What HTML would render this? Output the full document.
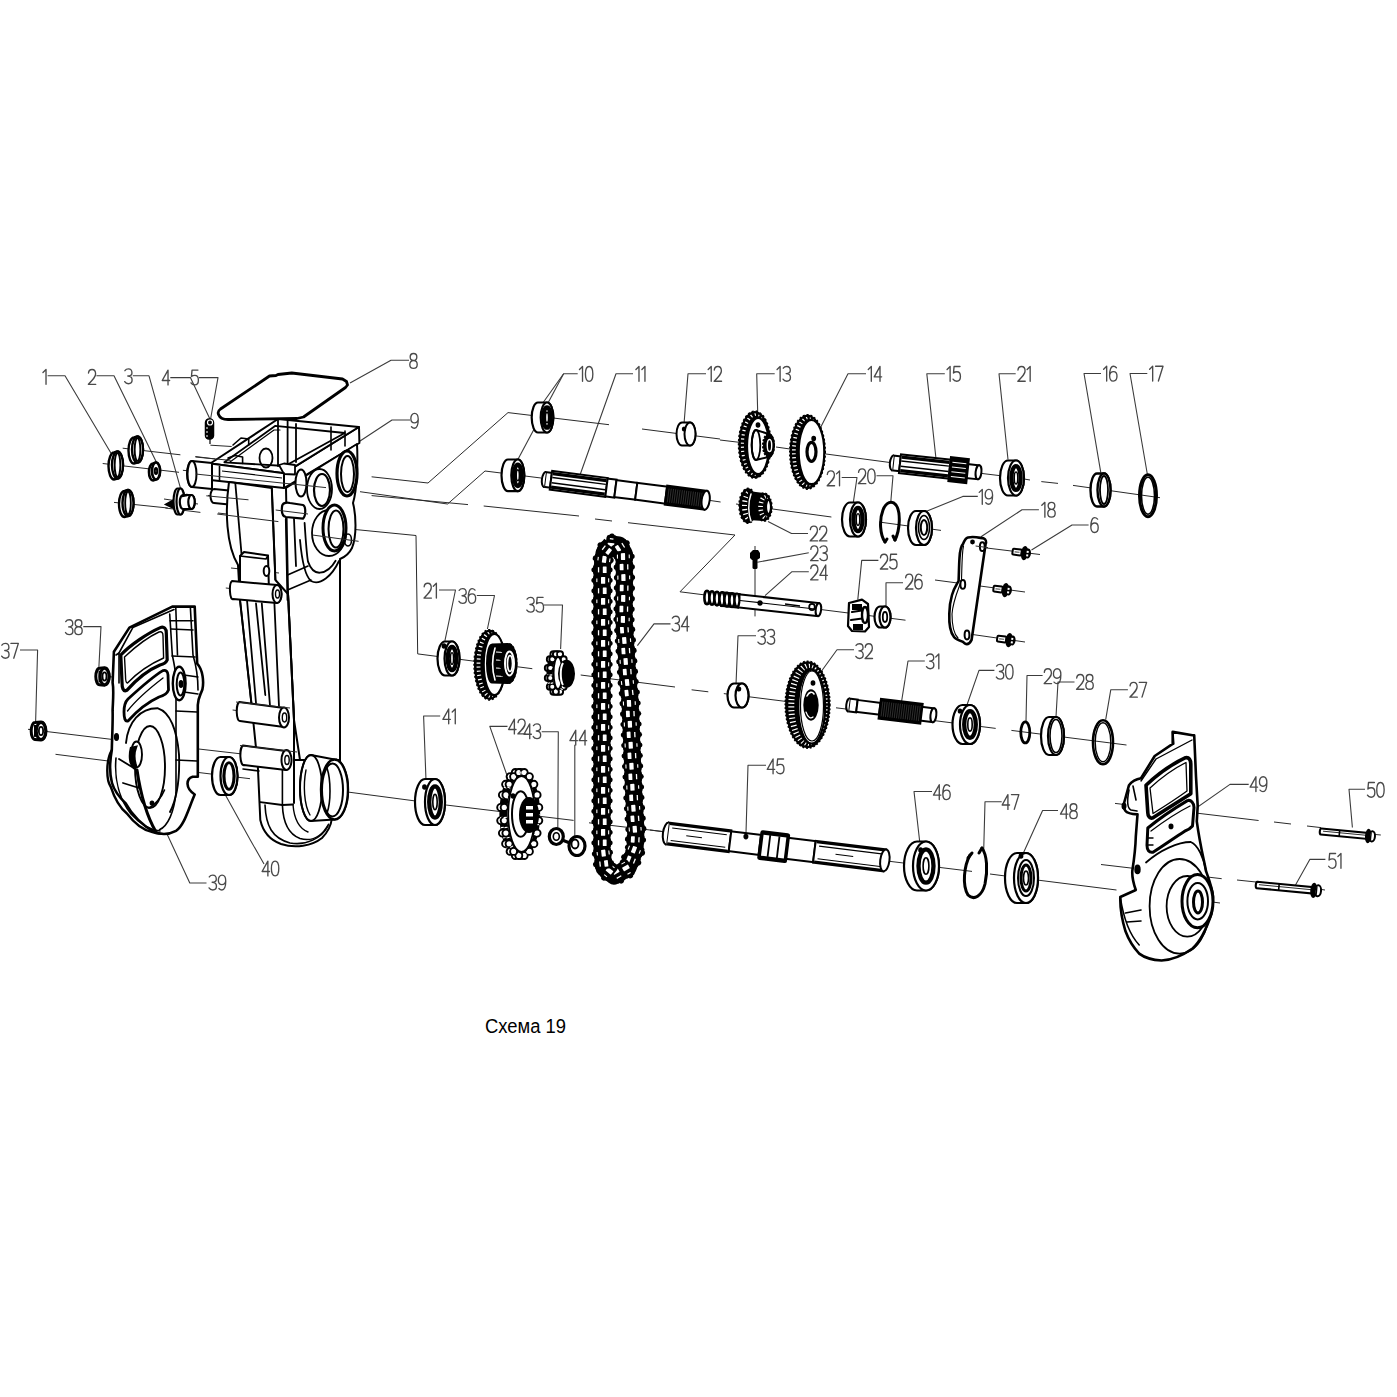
<!DOCTYPE html>
<html><head><meta charset="utf-8"><style>
html,body{margin:0;padding:0;background:#fff;}
svg{display:block;}
.lb{font-family:"Liberation Sans",sans-serif;}
</style></head><body>
<svg width="1397" height="1397" viewBox="0 0 1397 1397">
<rect width="1397" height="1397" fill="#fff"/>
<path d="M0.0,0.2 L0.75,0 L0.75,1" transform="translate(42.97 369.50) scale(4.070 14.800)" fill="none" stroke="#4a4a4a" stroke-width="1.35" vector-effect="non-scaling-stroke" stroke-linejoin="round" stroke-linecap="round"/>
<path d="M0.02,0.24 C0.05,0.08 0.25,0 0.5,0 C0.8,0 0.98,0.13 0.98,0.3 C0.98,0.5 0.7,0.64 0,1 L1,1" transform="translate(88.35 369.50) scale(7.400 14.800)" fill="none" stroke="#4a4a4a" stroke-width="1.35" vector-effect="non-scaling-stroke" stroke-linejoin="round" stroke-linecap="round"/>
<path d="M0.03,0.12 C0.15,0.03 0.32,0 0.5,0 C0.8,0 0.98,0.12 0.98,0.27 C0.98,0.41 0.8,0.48 0.42,0.48 C0.85,0.48 1,0.6 1,0.75 C1,0.9 0.8,1 0.5,1 C0.3,1 0.12,0.96 0,0.86" transform="translate(124.70 368.90) scale(7.400 14.800)" fill="none" stroke="#4a4a4a" stroke-width="1.35" vector-effect="non-scaling-stroke" stroke-linejoin="round" stroke-linecap="round"/>
<path d="M0.78,1 L0.78,0 L0,0.7 L1,0.7" transform="translate(162.25 370.10) scale(7.400 14.800)" fill="none" stroke="#4a4a4a" stroke-width="1.35" vector-effect="non-scaling-stroke" stroke-linejoin="round" stroke-linecap="round"/>
<path d="M0.94,0 L0.14,0 L0.06,0.44 C0.2,0.38 0.36,0.36 0.52,0.36 C0.82,0.36 1,0.5 1,0.68 C1,0.88 0.8,1 0.5,1 C0.28,1 0.1,0.95 0,0.86" transform="translate(191.00 370.10) scale(7.400 14.800)" fill="none" stroke="#4a4a4a" stroke-width="1.35" vector-effect="non-scaling-stroke" stroke-linejoin="round" stroke-linecap="round"/>
<path d="M0.5,0.47 C0.17,0.47 0.05,0.36 0.05,0.235 C0.05,0.1 0.24,0 0.5,0 C0.76,0 0.95,0.1 0.95,0.235 C0.95,0.36 0.83,0.47 0.5,0.47 C0.16,0.47 0,0.6 0,0.74 C0,0.9 0.2,1 0.5,1 C0.8,1 1,0.9 1,0.74 C1,0.6 0.84,0.47 0.5,0.47 Z" transform="translate(409.80 353.55) scale(7.400 14.800)" fill="none" stroke="#4a4a4a" stroke-width="1.35" vector-effect="non-scaling-stroke" stroke-linejoin="round" stroke-linecap="round"/>
<path d="M0.08,0.9 C0.2,0.97 0.34,1 0.48,1 C0.84,1 1,0.7 1,0.4 C1,0.14 0.8,0 0.5,0 C0.2,0 0,0.14 0,0.34 C0,0.54 0.2,0.64 0.48,0.64 C0.74,0.64 0.94,0.54 1,0.4" transform="translate(410.85 413.40) scale(7.400 14.800)" fill="none" stroke="#4a4a4a" stroke-width="1.35" vector-effect="non-scaling-stroke" stroke-linejoin="round" stroke-linecap="round"/>
<path d="M0.0,0.2 L0.75,0 L0.75,1" transform="translate(579.47 366.50) scale(4.070 14.800)" fill="none" stroke="#4a4a4a" stroke-width="1.35" vector-effect="non-scaling-stroke" stroke-linejoin="round" stroke-linecap="round"/>
<path d="M0.5,0 C0.86,0 1,0.22 1,0.5 C1,0.78 0.86,1 0.5,1 C0.14,1 0,0.78 0,0.5 C0,0.22 0.14,0 0.5,0 Z" transform="translate(585.44 366.50) scale(7.400 14.800)" fill="none" stroke="#4a4a4a" stroke-width="1.35" vector-effect="non-scaling-stroke" stroke-linejoin="round" stroke-linecap="round"/>
<path d="M0.0,0.2 L0.75,0 L0.75,1" transform="translate(635.93 366.50) scale(4.070 14.800)" fill="none" stroke="#4a4a4a" stroke-width="1.35" vector-effect="non-scaling-stroke" stroke-linejoin="round" stroke-linecap="round"/>
<path d="M0.0,0.2 L0.75,0 L0.75,1" transform="translate(641.90 366.50) scale(4.070 14.800)" fill="none" stroke="#4a4a4a" stroke-width="1.35" vector-effect="non-scaling-stroke" stroke-linejoin="round" stroke-linecap="round"/>
<path d="M0.0,0.2 L0.75,0 L0.75,1" transform="translate(708.17 366.45) scale(4.070 14.800)" fill="none" stroke="#4a4a4a" stroke-width="1.35" vector-effect="non-scaling-stroke" stroke-linejoin="round" stroke-linecap="round"/>
<path d="M0.02,0.24 C0.05,0.08 0.25,0 0.5,0 C0.8,0 0.98,0.13 0.98,0.3 C0.98,0.5 0.7,0.64 0,1 L1,1" transform="translate(714.14 366.45) scale(7.400 14.800)" fill="none" stroke="#4a4a4a" stroke-width="1.35" vector-effect="non-scaling-stroke" stroke-linejoin="round" stroke-linecap="round"/>
<path d="M0.0,0.2 L0.75,0 L0.75,1" transform="translate(777.07 366.45) scale(4.070 14.800)" fill="none" stroke="#4a4a4a" stroke-width="1.35" vector-effect="non-scaling-stroke" stroke-linejoin="round" stroke-linecap="round"/>
<path d="M0.03,0.12 C0.15,0.03 0.32,0 0.5,0 C0.8,0 0.98,0.12 0.98,0.27 C0.98,0.41 0.8,0.48 0.42,0.48 C0.85,0.48 1,0.6 1,0.75 C1,0.9 0.8,1 0.5,1 C0.3,1 0.12,0.96 0,0.86" transform="translate(783.04 366.45) scale(7.400 14.800)" fill="none" stroke="#4a4a4a" stroke-width="1.35" vector-effect="non-scaling-stroke" stroke-linejoin="round" stroke-linecap="round"/>
<path d="M0.0,0.2 L0.75,0 L0.75,1" transform="translate(868.27 366.45) scale(4.070 14.800)" fill="none" stroke="#4a4a4a" stroke-width="1.35" vector-effect="non-scaling-stroke" stroke-linejoin="round" stroke-linecap="round"/>
<path d="M0.78,1 L0.78,0 L0,0.7 L1,0.7" transform="translate(874.24 366.45) scale(7.400 14.800)" fill="none" stroke="#4a4a4a" stroke-width="1.35" vector-effect="non-scaling-stroke" stroke-linejoin="round" stroke-linecap="round"/>
<path d="M0.0,0.2 L0.75,0 L0.75,1" transform="translate(947.07 366.45) scale(4.070 14.800)" fill="none" stroke="#4a4a4a" stroke-width="1.35" vector-effect="non-scaling-stroke" stroke-linejoin="round" stroke-linecap="round"/>
<path d="M0.94,0 L0.14,0 L0.06,0.44 C0.2,0.38 0.36,0.36 0.52,0.36 C0.82,0.36 1,0.5 1,0.68 C1,0.88 0.8,1 0.5,1 C0.28,1 0.1,0.95 0,0.86" transform="translate(953.04 366.45) scale(7.400 14.800)" fill="none" stroke="#4a4a4a" stroke-width="1.35" vector-effect="non-scaling-stroke" stroke-linejoin="round" stroke-linecap="round"/>
<path d="M0.02,0.24 C0.05,0.08 0.25,0 0.5,0 C0.8,0 0.98,0.13 0.98,0.3 C0.98,0.5 0.7,0.64 0,1 L1,1" transform="translate(1017.82 366.45) scale(7.400 14.800)" fill="none" stroke="#4a4a4a" stroke-width="1.35" vector-effect="non-scaling-stroke" stroke-linejoin="round" stroke-linecap="round"/>
<path d="M0.0,0.2 L0.75,0 L0.75,1" transform="translate(1027.12 366.45) scale(4.070 14.800)" fill="none" stroke="#4a4a4a" stroke-width="1.35" vector-effect="non-scaling-stroke" stroke-linejoin="round" stroke-linecap="round"/>
<path d="M0.0,0.2 L0.75,0 L0.75,1" transform="translate(1103.62 366.25) scale(4.070 14.800)" fill="none" stroke="#4a4a4a" stroke-width="1.35" vector-effect="non-scaling-stroke" stroke-linejoin="round" stroke-linecap="round"/>
<path d="M0.92,0.1 C0.8,0.03 0.66,0 0.52,0 C0.16,0 0,0.3 0,0.6 C0,0.86 0.2,1 0.5,1 C0.8,1 1,0.86 1,0.66 C1,0.46 0.8,0.36 0.52,0.36 C0.26,0.36 0.06,0.46 0,0.62" transform="translate(1109.59 366.25) scale(7.400 14.800)" fill="none" stroke="#4a4a4a" stroke-width="1.35" vector-effect="non-scaling-stroke" stroke-linejoin="round" stroke-linecap="round"/>
<path d="M0.0,0.2 L0.75,0 L0.75,1" transform="translate(1149.62 366.25) scale(4.070 14.800)" fill="none" stroke="#4a4a4a" stroke-width="1.35" vector-effect="non-scaling-stroke" stroke-linejoin="round" stroke-linecap="round"/>
<path d="M0,0 L1,0 L0.38,1" transform="translate(1155.59 366.25) scale(7.400 14.800)" fill="none" stroke="#4a4a4a" stroke-width="1.35" vector-effect="non-scaling-stroke" stroke-linejoin="round" stroke-linecap="round"/>
<path d="M0.02,0.24 C0.05,0.08 0.25,0 0.5,0 C0.8,0 0.98,0.13 0.98,0.3 C0.98,0.5 0.7,0.64 0,1 L1,1" transform="translate(858.40 468.85) scale(7.400 14.800)" fill="none" stroke="#4a4a4a" stroke-width="1.35" vector-effect="non-scaling-stroke" stroke-linejoin="round" stroke-linecap="round"/>
<path d="M0.5,0 C0.86,0 1,0.22 1,0.5 C1,0.78 0.86,1 0.5,1 C0.14,1 0,0.78 0,0.5 C0,0.22 0.14,0 0.5,0 Z" transform="translate(867.70 468.85) scale(7.400 14.800)" fill="none" stroke="#4a4a4a" stroke-width="1.35" vector-effect="non-scaling-stroke" stroke-linejoin="round" stroke-linecap="round"/>
<path d="M0.02,0.24 C0.05,0.08 0.25,0 0.5,0 C0.8,0 0.98,0.13 0.98,0.3 C0.98,0.5 0.7,0.64 0,1 L1,1" transform="translate(827.17 470.90) scale(7.400 14.800)" fill="none" stroke="#4a4a4a" stroke-width="1.35" vector-effect="non-scaling-stroke" stroke-linejoin="round" stroke-linecap="round"/>
<path d="M0.0,0.2 L0.75,0 L0.75,1" transform="translate(836.47 470.90) scale(4.070 14.800)" fill="none" stroke="#4a4a4a" stroke-width="1.35" vector-effect="non-scaling-stroke" stroke-linejoin="round" stroke-linecap="round"/>
<path d="M0.0,0.2 L0.75,0 L0.75,1" transform="translate(979.22 489.40) scale(4.070 14.800)" fill="none" stroke="#4a4a4a" stroke-width="1.35" vector-effect="non-scaling-stroke" stroke-linejoin="round" stroke-linecap="round"/>
<path d="M0.08,0.9 C0.2,0.97 0.34,1 0.48,1 C0.84,1 1,0.7 1,0.4 C1,0.14 0.8,0 0.5,0 C0.2,0 0,0.14 0,0.34 C0,0.54 0.2,0.64 0.48,0.64 C0.74,0.64 0.94,0.54 1,0.4" transform="translate(985.19 489.40) scale(7.400 14.800)" fill="none" stroke="#4a4a4a" stroke-width="1.35" vector-effect="non-scaling-stroke" stroke-linejoin="round" stroke-linecap="round"/>
<path d="M0.0,0.2 L0.75,0 L0.75,1" transform="translate(1041.82 502.35) scale(4.070 14.800)" fill="none" stroke="#4a4a4a" stroke-width="1.35" vector-effect="non-scaling-stroke" stroke-linejoin="round" stroke-linecap="round"/>
<path d="M0.5,0.47 C0.17,0.47 0.05,0.36 0.05,0.235 C0.05,0.1 0.24,0 0.5,0 C0.76,0 0.95,0.1 0.95,0.235 C0.95,0.36 0.83,0.47 0.5,0.47 C0.16,0.47 0,0.6 0,0.74 C0,0.9 0.2,1 0.5,1 C0.8,1 1,0.9 1,0.74 C1,0.6 0.84,0.47 0.5,0.47 Z" transform="translate(1047.79 502.35) scale(7.400 14.800)" fill="none" stroke="#4a4a4a" stroke-width="1.35" vector-effect="non-scaling-stroke" stroke-linejoin="round" stroke-linecap="round"/>
<path d="M0.92,0.1 C0.8,0.03 0.66,0 0.52,0 C0.16,0 0,0.3 0,0.6 C0,0.86 0.2,1 0.5,1 C0.8,1 1,0.86 1,0.66 C1,0.46 0.8,0.36 0.52,0.36 C0.26,0.36 0.06,0.46 0,0.62" transform="translate(1090.80 517.65) scale(7.400 14.800)" fill="none" stroke="#4a4a4a" stroke-width="1.35" vector-effect="non-scaling-stroke" stroke-linejoin="round" stroke-linecap="round"/>
<path d="M0.02,0.24 C0.05,0.08 0.25,0 0.5,0 C0.8,0 0.98,0.13 0.98,0.3 C0.98,0.5 0.7,0.64 0,1 L1,1" transform="translate(810.20 526.10) scale(7.400 14.800)" fill="none" stroke="#4a4a4a" stroke-width="1.35" vector-effect="non-scaling-stroke" stroke-linejoin="round" stroke-linecap="round"/>
<path d="M0.02,0.24 C0.05,0.08 0.25,0 0.5,0 C0.8,0 0.98,0.13 0.98,0.3 C0.98,0.5 0.7,0.64 0,1 L1,1" transform="translate(819.50 526.10) scale(7.400 14.800)" fill="none" stroke="#4a4a4a" stroke-width="1.35" vector-effect="non-scaling-stroke" stroke-linejoin="round" stroke-linecap="round"/>
<path d="M0.02,0.24 C0.05,0.08 0.25,0 0.5,0 C0.8,0 0.98,0.13 0.98,0.3 C0.98,0.5 0.7,0.64 0,1 L1,1" transform="translate(810.65 545.85) scale(7.400 14.800)" fill="none" stroke="#4a4a4a" stroke-width="1.35" vector-effect="non-scaling-stroke" stroke-linejoin="round" stroke-linecap="round"/>
<path d="M0.03,0.12 C0.15,0.03 0.32,0 0.5,0 C0.8,0 0.98,0.12 0.98,0.27 C0.98,0.41 0.8,0.48 0.42,0.48 C0.85,0.48 1,0.6 1,0.75 C1,0.9 0.8,1 0.5,1 C0.3,1 0.12,0.96 0,0.86" transform="translate(819.95 545.85) scale(7.400 14.800)" fill="none" stroke="#4a4a4a" stroke-width="1.35" vector-effect="non-scaling-stroke" stroke-linejoin="round" stroke-linecap="round"/>
<path d="M0.02,0.24 C0.05,0.08 0.25,0 0.5,0 C0.8,0 0.98,0.13 0.98,0.3 C0.98,0.5 0.7,0.64 0,1 L1,1" transform="translate(810.65 565.00) scale(7.400 14.800)" fill="none" stroke="#4a4a4a" stroke-width="1.35" vector-effect="non-scaling-stroke" stroke-linejoin="round" stroke-linecap="round"/>
<path d="M0.78,1 L0.78,0 L0,0.7 L1,0.7" transform="translate(819.95 565.00) scale(7.400 14.800)" fill="none" stroke="#4a4a4a" stroke-width="1.35" vector-effect="non-scaling-stroke" stroke-linejoin="round" stroke-linecap="round"/>
<path d="M0.02,0.24 C0.05,0.08 0.25,0 0.5,0 C0.8,0 0.98,0.13 0.98,0.3 C0.98,0.5 0.7,0.64 0,1 L1,1" transform="translate(880.35 554.20) scale(7.400 14.800)" fill="none" stroke="#4a4a4a" stroke-width="1.35" vector-effect="non-scaling-stroke" stroke-linejoin="round" stroke-linecap="round"/>
<path d="M0.94,0 L0.14,0 L0.06,0.44 C0.2,0.38 0.36,0.36 0.52,0.36 C0.82,0.36 1,0.5 1,0.68 C1,0.88 0.8,1 0.5,1 C0.28,1 0.1,0.95 0,0.86" transform="translate(889.65 554.20) scale(7.400 14.800)" fill="none" stroke="#4a4a4a" stroke-width="1.35" vector-effect="non-scaling-stroke" stroke-linejoin="round" stroke-linecap="round"/>
<path d="M0.02,0.24 C0.05,0.08 0.25,0 0.5,0 C0.8,0 0.98,0.13 0.98,0.3 C0.98,0.5 0.7,0.64 0,1 L1,1" transform="translate(905.50 574.15) scale(7.400 14.800)" fill="none" stroke="#4a4a4a" stroke-width="1.35" vector-effect="non-scaling-stroke" stroke-linejoin="round" stroke-linecap="round"/>
<path d="M0.92,0.1 C0.8,0.03 0.66,0 0.52,0 C0.16,0 0,0.3 0,0.6 C0,0.86 0.2,1 0.5,1 C0.8,1 1,0.86 1,0.66 C1,0.46 0.8,0.36 0.52,0.36 C0.26,0.36 0.06,0.46 0,0.62" transform="translate(914.80 574.15) scale(7.400 14.800)" fill="none" stroke="#4a4a4a" stroke-width="1.35" vector-effect="non-scaling-stroke" stroke-linejoin="round" stroke-linecap="round"/>
<path d="M0.02,0.24 C0.05,0.08 0.25,0 0.5,0 C0.8,0 0.98,0.13 0.98,0.3 C0.98,0.5 0.7,0.64 0,1 L1,1" transform="translate(424.02 583.25) scale(7.400 14.800)" fill="none" stroke="#4a4a4a" stroke-width="1.35" vector-effect="non-scaling-stroke" stroke-linejoin="round" stroke-linecap="round"/>
<path d="M0.0,0.2 L0.75,0 L0.75,1" transform="translate(433.32 583.25) scale(4.070 14.800)" fill="none" stroke="#4a4a4a" stroke-width="1.35" vector-effect="non-scaling-stroke" stroke-linejoin="round" stroke-linecap="round"/>
<path d="M0.03,0.12 C0.15,0.03 0.32,0 0.5,0 C0.8,0 0.98,0.12 0.98,0.27 C0.98,0.41 0.8,0.48 0.42,0.48 C0.85,0.48 1,0.6 1,0.75 C1,0.9 0.8,1 0.5,1 C0.3,1 0.12,0.96 0,0.86" transform="translate(458.95 588.60) scale(7.400 14.800)" fill="none" stroke="#4a4a4a" stroke-width="1.35" vector-effect="non-scaling-stroke" stroke-linejoin="round" stroke-linecap="round"/>
<path d="M0.92,0.1 C0.8,0.03 0.66,0 0.52,0 C0.16,0 0,0.3 0,0.6 C0,0.86 0.2,1 0.5,1 C0.8,1 1,0.86 1,0.66 C1,0.46 0.8,0.36 0.52,0.36 C0.26,0.36 0.06,0.46 0,0.62" transform="translate(468.25 588.60) scale(7.400 14.800)" fill="none" stroke="#4a4a4a" stroke-width="1.35" vector-effect="non-scaling-stroke" stroke-linejoin="round" stroke-linecap="round"/>
<path d="M0.03,0.12 C0.15,0.03 0.32,0 0.5,0 C0.8,0 0.98,0.12 0.98,0.27 C0.98,0.41 0.8,0.48 0.42,0.48 C0.85,0.48 1,0.6 1,0.75 C1,0.9 0.8,1 0.5,1 C0.3,1 0.12,0.96 0,0.86" transform="translate(526.85 597.35) scale(7.400 14.800)" fill="none" stroke="#4a4a4a" stroke-width="1.35" vector-effect="non-scaling-stroke" stroke-linejoin="round" stroke-linecap="round"/>
<path d="M0.94,0 L0.14,0 L0.06,0.44 C0.2,0.38 0.36,0.36 0.52,0.36 C0.82,0.36 1,0.5 1,0.68 C1,0.88 0.8,1 0.5,1 C0.28,1 0.1,0.95 0,0.86" transform="translate(536.15 597.35) scale(7.400 14.800)" fill="none" stroke="#4a4a4a" stroke-width="1.35" vector-effect="non-scaling-stroke" stroke-linejoin="round" stroke-linecap="round"/>
<path d="M0.03,0.12 C0.15,0.03 0.32,0 0.5,0 C0.8,0 0.98,0.12 0.98,0.27 C0.98,0.41 0.8,0.48 0.42,0.48 C0.85,0.48 1,0.6 1,0.75 C1,0.9 0.8,1 0.5,1 C0.3,1 0.12,0.96 0,0.86" transform="translate(672.15 616.30) scale(7.400 14.800)" fill="none" stroke="#4a4a4a" stroke-width="1.35" vector-effect="non-scaling-stroke" stroke-linejoin="round" stroke-linecap="round"/>
<path d="M0.78,1 L0.78,0 L0,0.7 L1,0.7" transform="translate(681.45 616.30) scale(7.400 14.800)" fill="none" stroke="#4a4a4a" stroke-width="1.35" vector-effect="non-scaling-stroke" stroke-linejoin="round" stroke-linecap="round"/>
<path d="M0.03,0.12 C0.15,0.03 0.32,0 0.5,0 C0.8,0 0.98,0.12 0.98,0.27 C0.98,0.41 0.8,0.48 0.42,0.48 C0.85,0.48 1,0.6 1,0.75 C1,0.9 0.8,1 0.5,1 C0.3,1 0.12,0.96 0,0.86" transform="translate(757.95 629.45) scale(7.400 14.800)" fill="none" stroke="#4a4a4a" stroke-width="1.35" vector-effect="non-scaling-stroke" stroke-linejoin="round" stroke-linecap="round"/>
<path d="M0.03,0.12 C0.15,0.03 0.32,0 0.5,0 C0.8,0 0.98,0.12 0.98,0.27 C0.98,0.41 0.8,0.48 0.42,0.48 C0.85,0.48 1,0.6 1,0.75 C1,0.9 0.8,1 0.5,1 C0.3,1 0.12,0.96 0,0.86" transform="translate(767.25 629.45) scale(7.400 14.800)" fill="none" stroke="#4a4a4a" stroke-width="1.35" vector-effect="non-scaling-stroke" stroke-linejoin="round" stroke-linecap="round"/>
<path d="M0.03,0.12 C0.15,0.03 0.32,0 0.5,0 C0.8,0 0.98,0.12 0.98,0.27 C0.98,0.41 0.8,0.48 0.42,0.48 C0.85,0.48 1,0.6 1,0.75 C1,0.9 0.8,1 0.5,1 C0.3,1 0.12,0.96 0,0.86" transform="translate(855.80 643.70) scale(7.400 14.800)" fill="none" stroke="#4a4a4a" stroke-width="1.35" vector-effect="non-scaling-stroke" stroke-linejoin="round" stroke-linecap="round"/>
<path d="M0.02,0.24 C0.05,0.08 0.25,0 0.5,0 C0.8,0 0.98,0.13 0.98,0.3 C0.98,0.5 0.7,0.64 0,1 L1,1" transform="translate(865.10 643.70) scale(7.400 14.800)" fill="none" stroke="#4a4a4a" stroke-width="1.35" vector-effect="non-scaling-stroke" stroke-linejoin="round" stroke-linecap="round"/>
<path d="M0.03,0.12 C0.15,0.03 0.32,0 0.5,0 C0.8,0 0.98,0.12 0.98,0.27 C0.98,0.41 0.8,0.48 0.42,0.48 C0.85,0.48 1,0.6 1,0.75 C1,0.9 0.8,1 0.5,1 C0.3,1 0.12,0.96 0,0.86" transform="translate(926.47 653.95) scale(7.400 14.800)" fill="none" stroke="#4a4a4a" stroke-width="1.35" vector-effect="non-scaling-stroke" stroke-linejoin="round" stroke-linecap="round"/>
<path d="M0.0,0.2 L0.75,0 L0.75,1" transform="translate(935.76 653.95) scale(4.070 14.800)" fill="none" stroke="#4a4a4a" stroke-width="1.35" vector-effect="non-scaling-stroke" stroke-linejoin="round" stroke-linecap="round"/>
<path d="M0.03,0.12 C0.15,0.03 0.32,0 0.5,0 C0.8,0 0.98,0.12 0.98,0.27 C0.98,0.41 0.8,0.48 0.42,0.48 C0.85,0.48 1,0.6 1,0.75 C1,0.9 0.8,1 0.5,1 C0.3,1 0.12,0.96 0,0.86" transform="translate(996.35 664.35) scale(7.400 14.800)" fill="none" stroke="#4a4a4a" stroke-width="1.35" vector-effect="non-scaling-stroke" stroke-linejoin="round" stroke-linecap="round"/>
<path d="M0.5,0 C0.86,0 1,0.22 1,0.5 C1,0.78 0.86,1 0.5,1 C0.14,1 0,0.78 0,0.5 C0,0.22 0.14,0 0.5,0 Z" transform="translate(1005.65 664.35) scale(7.400 14.800)" fill="none" stroke="#4a4a4a" stroke-width="1.35" vector-effect="non-scaling-stroke" stroke-linejoin="round" stroke-linecap="round"/>
<path d="M0.02,0.24 C0.05,0.08 0.25,0 0.5,0 C0.8,0 0.98,0.13 0.98,0.3 C0.98,0.5 0.7,0.64 0,1 L1,1" transform="translate(1044.15 668.80) scale(7.400 14.800)" fill="none" stroke="#4a4a4a" stroke-width="1.35" vector-effect="non-scaling-stroke" stroke-linejoin="round" stroke-linecap="round"/>
<path d="M0.08,0.9 C0.2,0.97 0.34,1 0.48,1 C0.84,1 1,0.7 1,0.4 C1,0.14 0.8,0 0.5,0 C0.2,0 0,0.14 0,0.34 C0,0.54 0.2,0.64 0.48,0.64 C0.74,0.64 0.94,0.54 1,0.4" transform="translate(1053.45 668.80) scale(7.400 14.800)" fill="none" stroke="#4a4a4a" stroke-width="1.35" vector-effect="non-scaling-stroke" stroke-linejoin="round" stroke-linecap="round"/>
<path d="M0.02,0.24 C0.05,0.08 0.25,0 0.5,0 C0.8,0 0.98,0.13 0.98,0.3 C0.98,0.5 0.7,0.64 0,1 L1,1" transform="translate(1076.55 674.45) scale(7.400 14.800)" fill="none" stroke="#4a4a4a" stroke-width="1.35" vector-effect="non-scaling-stroke" stroke-linejoin="round" stroke-linecap="round"/>
<path d="M0.5,0.47 C0.17,0.47 0.05,0.36 0.05,0.235 C0.05,0.1 0.24,0 0.5,0 C0.76,0 0.95,0.1 0.95,0.235 C0.95,0.36 0.83,0.47 0.5,0.47 C0.16,0.47 0,0.6 0,0.74 C0,0.9 0.2,1 0.5,1 C0.8,1 1,0.9 1,0.74 C1,0.6 0.84,0.47 0.5,0.47 Z" transform="translate(1085.85 674.45) scale(7.400 14.800)" fill="none" stroke="#4a4a4a" stroke-width="1.35" vector-effect="non-scaling-stroke" stroke-linejoin="round" stroke-linecap="round"/>
<path d="M0.02,0.24 C0.05,0.08 0.25,0 0.5,0 C0.8,0 0.98,0.13 0.98,0.3 C0.98,0.5 0.7,0.64 0,1 L1,1" transform="translate(1129.90 682.35) scale(7.400 14.800)" fill="none" stroke="#4a4a4a" stroke-width="1.35" vector-effect="non-scaling-stroke" stroke-linejoin="round" stroke-linecap="round"/>
<path d="M0,0 L1,0 L0.38,1" transform="translate(1139.20 682.35) scale(7.400 14.800)" fill="none" stroke="#4a4a4a" stroke-width="1.35" vector-effect="non-scaling-stroke" stroke-linejoin="round" stroke-linecap="round"/>
<path d="M0.03,0.12 C0.15,0.03 0.32,0 0.5,0 C0.8,0 0.98,0.12 0.98,0.27 C0.98,0.41 0.8,0.48 0.42,0.48 C0.85,0.48 1,0.6 1,0.75 C1,0.9 0.8,1 0.5,1 C0.3,1 0.12,0.96 0,0.86" transform="translate(65.50 619.80) scale(7.400 14.800)" fill="none" stroke="#4a4a4a" stroke-width="1.35" vector-effect="non-scaling-stroke" stroke-linejoin="round" stroke-linecap="round"/>
<path d="M0.5,0.47 C0.17,0.47 0.05,0.36 0.05,0.235 C0.05,0.1 0.24,0 0.5,0 C0.76,0 0.95,0.1 0.95,0.235 C0.95,0.36 0.83,0.47 0.5,0.47 C0.16,0.47 0,0.6 0,0.74 C0,0.9 0.2,1 0.5,1 C0.8,1 1,0.9 1,0.74 C1,0.6 0.84,0.47 0.5,0.47 Z" transform="translate(74.80 619.80) scale(7.400 14.800)" fill="none" stroke="#4a4a4a" stroke-width="1.35" vector-effect="non-scaling-stroke" stroke-linejoin="round" stroke-linecap="round"/>
<path d="M0.03,0.12 C0.15,0.03 0.32,0 0.5,0 C0.8,0 0.98,0.12 0.98,0.27 C0.98,0.41 0.8,0.48 0.42,0.48 C0.85,0.48 1,0.6 1,0.75 C1,0.9 0.8,1 0.5,1 C0.3,1 0.12,0.96 0,0.86" transform="translate(1.65 643.40) scale(7.400 14.800)" fill="none" stroke="#4a4a4a" stroke-width="1.35" vector-effect="non-scaling-stroke" stroke-linejoin="round" stroke-linecap="round"/>
<path d="M0,0 L1,0 L0.38,1" transform="translate(10.95 643.40) scale(7.400 14.800)" fill="none" stroke="#4a4a4a" stroke-width="1.35" vector-effect="non-scaling-stroke" stroke-linejoin="round" stroke-linecap="round"/>
<path d="M0.78,1 L0.78,0 L0,0.7 L1,0.7" transform="translate(442.92 709.05) scale(7.400 14.800)" fill="none" stroke="#4a4a4a" stroke-width="1.35" vector-effect="non-scaling-stroke" stroke-linejoin="round" stroke-linecap="round"/>
<path d="M0.0,0.2 L0.75,0 L0.75,1" transform="translate(452.22 709.05) scale(4.070 14.800)" fill="none" stroke="#4a4a4a" stroke-width="1.35" vector-effect="non-scaling-stroke" stroke-linejoin="round" stroke-linecap="round"/>
<path d="M0.78,1 L0.78,0 L0,0.7 L1,0.7" transform="translate(508.60 719.10) scale(7.400 14.800)" fill="none" stroke="#4a4a4a" stroke-width="1.35" vector-effect="non-scaling-stroke" stroke-linejoin="round" stroke-linecap="round"/>
<path d="M0.02,0.24 C0.05,0.08 0.25,0 0.5,0 C0.8,0 0.98,0.13 0.98,0.3 C0.98,0.5 0.7,0.64 0,1 L1,1" transform="translate(517.90 719.10) scale(7.400 14.800)" fill="none" stroke="#4a4a4a" stroke-width="1.35" vector-effect="non-scaling-stroke" stroke-linejoin="round" stroke-linecap="round"/>
<path d="M0.78,1 L0.78,0 L0,0.7 L1,0.7" transform="translate(523.95 723.85) scale(7.400 14.800)" fill="none" stroke="#4a4a4a" stroke-width="1.35" vector-effect="non-scaling-stroke" stroke-linejoin="round" stroke-linecap="round"/>
<path d="M0.03,0.12 C0.15,0.03 0.32,0 0.5,0 C0.8,0 0.98,0.12 0.98,0.27 C0.98,0.41 0.8,0.48 0.42,0.48 C0.85,0.48 1,0.6 1,0.75 C1,0.9 0.8,1 0.5,1 C0.3,1 0.12,0.96 0,0.86" transform="translate(533.25 723.85) scale(7.400 14.800)" fill="none" stroke="#4a4a4a" stroke-width="1.35" vector-effect="non-scaling-stroke" stroke-linejoin="round" stroke-linecap="round"/>
<path d="M0.78,1 L0.78,0 L0,0.7 L1,0.7" transform="translate(569.95 730.30) scale(7.400 14.800)" fill="none" stroke="#4a4a4a" stroke-width="1.35" vector-effect="non-scaling-stroke" stroke-linejoin="round" stroke-linecap="round"/>
<path d="M0.78,1 L0.78,0 L0,0.7 L1,0.7" transform="translate(579.25 730.30) scale(7.400 14.800)" fill="none" stroke="#4a4a4a" stroke-width="1.35" vector-effect="non-scaling-stroke" stroke-linejoin="round" stroke-linecap="round"/>
<path d="M0.78,1 L0.78,0 L0,0.7 L1,0.7" transform="translate(767.30 759.00) scale(7.400 14.800)" fill="none" stroke="#4a4a4a" stroke-width="1.35" vector-effect="non-scaling-stroke" stroke-linejoin="round" stroke-linecap="round"/>
<path d="M0.94,0 L0.14,0 L0.06,0.44 C0.2,0.38 0.36,0.36 0.52,0.36 C0.82,0.36 1,0.5 1,0.68 C1,0.88 0.8,1 0.5,1 C0.28,1 0.1,0.95 0,0.86" transform="translate(776.60 759.00) scale(7.400 14.800)" fill="none" stroke="#4a4a4a" stroke-width="1.35" vector-effect="non-scaling-stroke" stroke-linejoin="round" stroke-linecap="round"/>
<path d="M0.78,1 L0.78,0 L0,0.7 L1,0.7" transform="translate(933.50 784.75) scale(7.400 14.800)" fill="none" stroke="#4a4a4a" stroke-width="1.35" vector-effect="non-scaling-stroke" stroke-linejoin="round" stroke-linecap="round"/>
<path d="M0.92,0.1 C0.8,0.03 0.66,0 0.52,0 C0.16,0 0,0.3 0,0.6 C0,0.86 0.2,1 0.5,1 C0.8,1 1,0.86 1,0.66 C1,0.46 0.8,0.36 0.52,0.36 C0.26,0.36 0.06,0.46 0,0.62" transform="translate(942.80 784.75) scale(7.400 14.800)" fill="none" stroke="#4a4a4a" stroke-width="1.35" vector-effect="non-scaling-stroke" stroke-linejoin="round" stroke-linecap="round"/>
<path d="M0.78,1 L0.78,0 L0,0.7 L1,0.7" transform="translate(1002.15 794.60) scale(7.400 14.800)" fill="none" stroke="#4a4a4a" stroke-width="1.35" vector-effect="non-scaling-stroke" stroke-linejoin="round" stroke-linecap="round"/>
<path d="M0,0 L1,0 L0.38,1" transform="translate(1011.45 794.60) scale(7.400 14.800)" fill="none" stroke="#4a4a4a" stroke-width="1.35" vector-effect="non-scaling-stroke" stroke-linejoin="round" stroke-linecap="round"/>
<path d="M0.78,1 L0.78,0 L0,0.7 L1,0.7" transform="translate(1060.50 803.80) scale(7.400 14.800)" fill="none" stroke="#4a4a4a" stroke-width="1.35" vector-effect="non-scaling-stroke" stroke-linejoin="round" stroke-linecap="round"/>
<path d="M0.5,0.47 C0.17,0.47 0.05,0.36 0.05,0.235 C0.05,0.1 0.24,0 0.5,0 C0.76,0 0.95,0.1 0.95,0.235 C0.95,0.36 0.83,0.47 0.5,0.47 C0.16,0.47 0,0.6 0,0.74 C0,0.9 0.2,1 0.5,1 C0.8,1 1,0.9 1,0.74 C1,0.6 0.84,0.47 0.5,0.47 Z" transform="translate(1069.80 803.80) scale(7.400 14.800)" fill="none" stroke="#4a4a4a" stroke-width="1.35" vector-effect="non-scaling-stroke" stroke-linejoin="round" stroke-linecap="round"/>
<path d="M0.78,1 L0.78,0 L0,0.7 L1,0.7" transform="translate(1250.15 776.80) scale(7.400 14.800)" fill="none" stroke="#4a4a4a" stroke-width="1.35" vector-effect="non-scaling-stroke" stroke-linejoin="round" stroke-linecap="round"/>
<path d="M0.08,0.9 C0.2,0.97 0.34,1 0.48,1 C0.84,1 1,0.7 1,0.4 C1,0.14 0.8,0 0.5,0 C0.2,0 0,0.14 0,0.34 C0,0.54 0.2,0.64 0.48,0.64 C0.74,0.64 0.94,0.54 1,0.4" transform="translate(1259.45 776.80) scale(7.400 14.800)" fill="none" stroke="#4a4a4a" stroke-width="1.35" vector-effect="non-scaling-stroke" stroke-linejoin="round" stroke-linecap="round"/>
<path d="M0.94,0 L0.14,0 L0.06,0.44 C0.2,0.38 0.36,0.36 0.52,0.36 C0.82,0.36 1,0.5 1,0.68 C1,0.88 0.8,1 0.5,1 C0.28,1 0.1,0.95 0,0.86" transform="translate(1367.45 782.45) scale(7.400 14.800)" fill="none" stroke="#4a4a4a" stroke-width="1.35" vector-effect="non-scaling-stroke" stroke-linejoin="round" stroke-linecap="round"/>
<path d="M0.5,0 C0.86,0 1,0.22 1,0.5 C1,0.78 0.86,1 0.5,1 C0.14,1 0,0.78 0,0.5 C0,0.22 0.14,0 0.5,0 Z" transform="translate(1376.75 782.45) scale(7.400 14.800)" fill="none" stroke="#4a4a4a" stroke-width="1.35" vector-effect="non-scaling-stroke" stroke-linejoin="round" stroke-linecap="round"/>
<path d="M0.94,0 L0.14,0 L0.06,0.44 C0.2,0.38 0.36,0.36 0.52,0.36 C0.82,0.36 1,0.5 1,0.68 C1,0.88 0.8,1 0.5,1 C0.28,1 0.1,0.95 0,0.86" transform="translate(1328.62 853.50) scale(7.400 14.800)" fill="none" stroke="#4a4a4a" stroke-width="1.35" vector-effect="non-scaling-stroke" stroke-linejoin="round" stroke-linecap="round"/>
<path d="M0.0,0.2 L0.75,0 L0.75,1" transform="translate(1337.91 853.50) scale(4.070 14.800)" fill="none" stroke="#4a4a4a" stroke-width="1.35" vector-effect="non-scaling-stroke" stroke-linejoin="round" stroke-linecap="round"/>
<path d="M0.03,0.12 C0.15,0.03 0.32,0 0.5,0 C0.8,0 0.98,0.12 0.98,0.27 C0.98,0.41 0.8,0.48 0.42,0.48 C0.85,0.48 1,0.6 1,0.75 C1,0.9 0.8,1 0.5,1 C0.3,1 0.12,0.96 0,0.86" transform="translate(209.05 875.15) scale(7.400 14.800)" fill="none" stroke="#4a4a4a" stroke-width="1.35" vector-effect="non-scaling-stroke" stroke-linejoin="round" stroke-linecap="round"/>
<path d="M0.08,0.9 C0.2,0.97 0.34,1 0.48,1 C0.84,1 1,0.7 1,0.4 C1,0.14 0.8,0 0.5,0 C0.2,0 0,0.14 0,0.34 C0,0.54 0.2,0.64 0.48,0.64 C0.74,0.64 0.94,0.54 1,0.4" transform="translate(218.35 875.15) scale(7.400 14.800)" fill="none" stroke="#4a4a4a" stroke-width="1.35" vector-effect="non-scaling-stroke" stroke-linejoin="round" stroke-linecap="round"/>
<path d="M0.78,1 L0.78,0 L0,0.7 L1,0.7" transform="translate(262.10 861.10) scale(7.400 14.800)" fill="none" stroke="#4a4a4a" stroke-width="1.35" vector-effect="non-scaling-stroke" stroke-linejoin="round" stroke-linecap="round"/>
<path d="M0.5,0 C0.86,0 1,0.22 1,0.5 C1,0.78 0.86,1 0.5,1 C0.14,1 0,0.78 0,0.5 C0,0.22 0.14,0 0.5,0 Z" transform="translate(271.40 861.10) scale(7.400 14.800)" fill="none" stroke="#4a4a4a" stroke-width="1.35" vector-effect="non-scaling-stroke" stroke-linejoin="round" stroke-linecap="round"/>
<text x="485" y="1033.4" font-size="19.5" textLength="81" lengthAdjust="spacingAndGlyphs" fill="#000" class="lb">Схема 19</text>
<polyline points="47.6,375.8 65.0,375.8 111.5,454.0" fill="none" stroke="#3c3c3c" stroke-width="1.1" stroke-linejoin="round"/>
<polyline points="96.4,375.8 114.0,375.8 157.3,464.0" fill="none" stroke="#3c3c3c" stroke-width="1.1" stroke-linejoin="round"/>
<polyline points="132.8,375.8 149.0,375.8 180.4,487.8" fill="none" stroke="#3c3c3c" stroke-width="1.1" stroke-linejoin="round"/>
<polyline points="170.3,377.6 190.4,377.6 210.4,420.0" fill="none" stroke="#3c3c3c" stroke-width="1.1" stroke-linejoin="round"/>
<polyline points="199.0,377.6 218.0,377.6 210.4,420.0" fill="none" stroke="#3c3c3c" stroke-width="1.1" stroke-linejoin="round"/>
<polyline points="409.0,360.3 391.0,360.3 350.0,383.0" fill="none" stroke="#3c3c3c" stroke-width="1.1" stroke-linejoin="round"/>
<polyline points="410.0,420.0 392.0,420.0 357.0,443.0" fill="none" stroke="#3c3c3c" stroke-width="1.1" stroke-linejoin="round"/>
<polyline points="577.7,373.7 563.6,373.7 543.0,402.8" fill="none" stroke="#3c3c3c" stroke-width="1.1" stroke-linejoin="round"/>
<polyline points="563.6,373.7 516.0,463.0" fill="none" stroke="#3c3c3c" stroke-width="1.1" stroke-linejoin="round"/>
<polyline points="633.0,373.7 616.0,373.7 580.0,475.0" fill="none" stroke="#3c3c3c" stroke-width="1.1" stroke-linejoin="round"/>
<polyline points="706.0,373.7 688.0,373.7 684.0,424.0" fill="none" stroke="#3c3c3c" stroke-width="1.1" stroke-linejoin="round"/>
<polyline points="774.7,373.7 756.7,373.7 758.0,424.7" fill="none" stroke="#3c3c3c" stroke-width="1.1" stroke-linejoin="round"/>
<polyline points="866.0,373.7 848.0,373.7 814.7,439.0" fill="none" stroke="#3c3c3c" stroke-width="1.1" stroke-linejoin="round"/>
<polyline points="944.8,373.7 926.8,373.7 935.8,457.0" fill="none" stroke="#3c3c3c" stroke-width="1.1" stroke-linejoin="round"/>
<polyline points="1015.7,373.7 999.0,373.7 1008.0,459.5" fill="none" stroke="#3c3c3c" stroke-width="1.1" stroke-linejoin="round"/>
<polyline points="1101.0,373.5 1084.0,373.5 1100.8,472.7" fill="none" stroke="#3c3c3c" stroke-width="1.1" stroke-linejoin="round"/>
<polyline points="1147.3,373.5 1130.0,373.5 1147.3,474.0" fill="none" stroke="#3c3c3c" stroke-width="1.1" stroke-linejoin="round"/>
<polyline points="841.7,477.5 857.0,477.5 853.0,504.6" fill="none" stroke="#3c3c3c" stroke-width="1.1" stroke-linejoin="round"/>
<polyline points="876.5,475.8 893.0,475.8 890.7,503.0" fill="none" stroke="#3c3c3c" stroke-width="1.1" stroke-linejoin="round"/>
<polyline points="977.8,496.4 962.8,496.4 924.0,512.3" fill="none" stroke="#3c3c3c" stroke-width="1.1" stroke-linejoin="round"/>
<polyline points="1038.9,509.8 1022.0,509.8 981.0,536.8" fill="none" stroke="#3c3c3c" stroke-width="1.1" stroke-linejoin="round"/>
<polyline points="1088.6,525.0 1072.0,525.0 1031.5,550.0" fill="none" stroke="#3c3c3c" stroke-width="1.1" stroke-linejoin="round"/>
<polyline points="808.0,533.5 791.5,533.5 768.0,521.4" fill="none" stroke="#3c3c3c" stroke-width="1.1" stroke-linejoin="round"/>
<polyline points="808.8,552.7 757.3,562.2" fill="none" stroke="#3c3c3c" stroke-width="1.1" stroke-linejoin="round"/>
<polyline points="808.8,571.7 792.0,571.7 765.0,595.7" fill="none" stroke="#3c3c3c" stroke-width="1.1" stroke-linejoin="round"/>
<polyline points="878.4,560.4 861.7,560.4 857.8,599.6" fill="none" stroke="#3c3c3c" stroke-width="1.1" stroke-linejoin="round"/>
<polyline points="903.0,582.8 886.0,582.8 886.0,607.3" fill="none" stroke="#3c3c3c" stroke-width="1.1" stroke-linejoin="round"/>
<polyline points="439.0,590.0 455.5,590.0 444.9,640.9" fill="none" stroke="#3c3c3c" stroke-width="1.1" stroke-linejoin="round"/>
<polyline points="476.8,595.5 494.5,595.5 487.4,629.0" fill="none" stroke="#3c3c3c" stroke-width="1.1" stroke-linejoin="round"/>
<polyline points="544.0,605.0 562.5,605.0 560.6,649.0" fill="none" stroke="#3c3c3c" stroke-width="1.1" stroke-linejoin="round"/>
<polyline points="670.5,623.9 654.0,623.9 637.4,645.6" fill="none" stroke="#3c3c3c" stroke-width="1.1" stroke-linejoin="round"/>
<polyline points="756.0,635.7 738.0,635.7 736.0,684.6" fill="none" stroke="#3c3c3c" stroke-width="1.1" stroke-linejoin="round"/>
<polyline points="854.0,649.8 837.0,649.8 812.7,683.3" fill="none" stroke="#3c3c3c" stroke-width="1.1" stroke-linejoin="round"/>
<polyline points="924.8,661.0 908.0,661.0 901.0,705.0" fill="none" stroke="#3c3c3c" stroke-width="1.1" stroke-linejoin="round"/>
<polyline points="994.4,670.4 979.0,670.4 966.0,707.8" fill="none" stroke="#3c3c3c" stroke-width="1.1" stroke-linejoin="round"/>
<polyline points="1042.6,675.5 1027.0,675.5 1026.0,721.0" fill="none" stroke="#3c3c3c" stroke-width="1.1" stroke-linejoin="round"/>
<polyline points="1074.5,682.0 1058.0,682.0 1056.0,716.7" fill="none" stroke="#3c3c3c" stroke-width="1.1" stroke-linejoin="round"/>
<polyline points="1127.9,689.7 1110.8,689.7 1105.7,719.6" fill="none" stroke="#3c3c3c" stroke-width="1.1" stroke-linejoin="round"/>
<polyline points="83.3,626.6 101.0,626.6 98.8,668.8" fill="none" stroke="#3c3c3c" stroke-width="1.1" stroke-linejoin="round"/>
<polyline points="20.0,650.0 37.6,650.0 35.6,722.3" fill="none" stroke="#3c3c3c" stroke-width="1.1" stroke-linejoin="round"/>
<polyline points="440.2,716.0 423.6,716.0 426.0,780.2" fill="none" stroke="#3c3c3c" stroke-width="1.1" stroke-linejoin="round"/>
<polyline points="507.5,726.4 489.8,726.4 508.7,780.2" fill="none" stroke="#3c3c3c" stroke-width="1.1" stroke-linejoin="round"/>
<polyline points="541.7,731.8 558.3,731.8 557.8,828.7" fill="none" stroke="#3c3c3c" stroke-width="1.1" stroke-linejoin="round"/>
<polyline points="574.8,744.8 574.8,837.0" fill="none" stroke="#3c3c3c" stroke-width="1.1" stroke-linejoin="round"/>
<polyline points="766.0,765.3 748.0,765.3 745.9,836.6" fill="none" stroke="#3c3c3c" stroke-width="1.1" stroke-linejoin="round"/>
<polyline points="932.0,791.5 914.0,791.5 920.6,849.5" fill="none" stroke="#3c3c3c" stroke-width="1.1" stroke-linejoin="round"/>
<polyline points="1001.7,801.8 985.0,801.8 983.7,850.8" fill="none" stroke="#3c3c3c" stroke-width="1.1" stroke-linejoin="round"/>
<polyline points="1058.0,810.5 1042.6,810.5 1022.7,854.5" fill="none" stroke="#3c3c3c" stroke-width="1.1" stroke-linejoin="round"/>
<polyline points="1248.7,784.4 1230.0,784.4 1170.5,826.0" fill="none" stroke="#3c3c3c" stroke-width="1.1" stroke-linejoin="round"/>
<polyline points="1365.0,789.2 1349.0,789.2 1352.4,827.5" fill="none" stroke="#3c3c3c" stroke-width="1.1" stroke-linejoin="round"/>
<polyline points="1325.4,859.4 1309.8,859.4 1295.5,885.0" fill="none" stroke="#3c3c3c" stroke-width="1.1" stroke-linejoin="round"/>
<polyline points="206.5,883.0 189.8,883.0 153.2,804.3" fill="none" stroke="#3c3c3c" stroke-width="1.1" stroke-linejoin="round"/>
<polyline points="264.0,864.0 250.3,840.0 225.7,795.4" fill="none" stroke="#3c3c3c" stroke-width="1.1" stroke-linejoin="round"/>
<polyline points="122.7,448.2 180.4,454.8" fill="none" stroke="#2a2a2a" stroke-width="1.0" stroke-linejoin="round"/>
<polyline points="102.7,463.5 179.0,472.3" fill="none" stroke="#2a2a2a" stroke-width="1.0" stroke-linejoin="round"/>
<polyline points="195.4,456.5 215.0,459.0" fill="none" stroke="#2a2a2a" stroke-width="1.0" stroke-linejoin="round"/>
<polyline points="182.9,470.3 210.0,473.0" fill="none" stroke="#2a2a2a" stroke-width="1.0" stroke-linejoin="round"/>
<polyline points="114.0,502.4 167.8,508.0" fill="none" stroke="#2a2a2a" stroke-width="1.0" stroke-linejoin="round"/>
<polyline points="164.0,499.0 198.0,504.0" fill="none" stroke="#2a2a2a" stroke-width="1.0" stroke-linejoin="round"/>
<polyline points="165.3,508.0 200.4,512.4" fill="none" stroke="#2a2a2a" stroke-width="1.0" stroke-linejoin="round"/>
<polyline points="208.0,495.4 248.0,500.4" fill="none" stroke="#2a2a2a" stroke-width="1.0" stroke-linejoin="round"/>
<polyline points="218.0,513.0 250.0,516.7" fill="none" stroke="#2a2a2a" stroke-width="1.0" stroke-linejoin="round"/>
<polyline points="210.4,445.2 231.7,446.5" fill="none" stroke="#2a2a2a" stroke-width="1.0" stroke-linejoin="round"/>
<polyline points="371.6,476.8 428.0,483.0 508.0,412.6 609.0,424.7" fill="none" stroke="#2a2a2a" stroke-width="1.0" stroke-linejoin="round"/>
<polyline points="642.0,429.0 720.0,439.0" fill="none" stroke="#2a2a2a" stroke-width="1.0" stroke-linejoin="round"/>
<polyline points="1041.3,481.6 1058.0,483.4" fill="none" stroke="#2a2a2a" stroke-width="1.0" stroke-linejoin="round"/>
<polyline points="1073.0,485.4 1160.0,497.7" fill="none" stroke="#2a2a2a" stroke-width="1.0" stroke-linejoin="round"/>
<polyline points="360.0,491.7 447.6,504.0 485.0,471.0 541.0,478.0" fill="none" stroke="#2a2a2a" stroke-width="1.0" stroke-linejoin="round"/>
<polyline points="700.0,499.0 720.6,502.0" fill="none" stroke="#2a2a2a" stroke-width="1.0" stroke-linejoin="round"/>
<polyline points="736.0,504.0 831.4,517.0" fill="none" stroke="#2a2a2a" stroke-width="1.0" stroke-linejoin="round"/>
<polyline points="879.0,522.0 941.0,530.4" fill="none" stroke="#2a2a2a" stroke-width="1.0" stroke-linejoin="round"/>
<polyline points="371.6,495.6 468.0,504.6" fill="none" stroke="#2a2a2a" stroke-width="1.0" stroke-linejoin="round"/>
<polyline points="483.7,506.0 579.0,516.0" fill="none" stroke="#2a2a2a" stroke-width="1.0" stroke-linejoin="round"/>
<polyline points="595.0,519.0 612.0,521.0" fill="none" stroke="#2a2a2a" stroke-width="1.0" stroke-linejoin="round"/>
<polyline points="628.0,522.7 735.0,535.0 680.0,591.8 905.5,620.2" fill="none" stroke="#2a2a2a" stroke-width="1.0" stroke-linejoin="round"/>
<polyline points="350.0,529.0 416.0,535.5 417.7,653.9 532.3,668.7" fill="none" stroke="#2a2a2a" stroke-width="1.0" stroke-linejoin="round"/>
<polyline points="580.7,675.0 675.0,687.0" fill="none" stroke="#2a2a2a" stroke-width="1.0" stroke-linejoin="round"/>
<polyline points="691.6,689.8 708.3,691.8" fill="none" stroke="#2a2a2a" stroke-width="1.0" stroke-linejoin="round"/>
<polyline points="723.8,693.6 785.6,701.4" fill="none" stroke="#2a2a2a" stroke-width="1.0" stroke-linejoin="round"/>
<polyline points="836.0,707.8 846.0,709.0" fill="none" stroke="#2a2a2a" stroke-width="1.0" stroke-linejoin="round"/>
<polyline points="935.0,720.7 995.7,728.4" fill="none" stroke="#2a2a2a" stroke-width="1.0" stroke-linejoin="round"/>
<polyline points="1011.4,730.4 1126.5,745.0" fill="none" stroke="#2a2a2a" stroke-width="1.0" stroke-linejoin="round"/>
<polyline points="55.5,754.3 143.0,765.4" fill="none" stroke="#2a2a2a" stroke-width="1.0" stroke-linejoin="round"/>
<polyline points="157.7,767.6 250.0,778.7" fill="none" stroke="#2a2a2a" stroke-width="1.0" stroke-linejoin="round"/>
<polyline points="254.4,780.0 254.4,780.0" fill="none" stroke="#2a2a2a" stroke-width="1.0" stroke-linejoin="round"/>
<polyline points="270.4,781.6 287.0,784.0" fill="none" stroke="#2a2a2a" stroke-width="1.0" stroke-linejoin="round"/>
<polyline points="303.6,786.2 446.0,805.0" fill="none" stroke="#2a2a2a" stroke-width="1.0" stroke-linejoin="round"/>
<polyline points="446.0,805.0 573.6,820.4" fill="none" stroke="#2a2a2a" stroke-width="1.0" stroke-linejoin="round"/>
<polyline points="589.0,822.8 667.0,832.0" fill="none" stroke="#2a2a2a" stroke-width="1.0" stroke-linejoin="round"/>
<polyline points="650.0,830.0 887.0,861.0" fill="none" stroke="#2a2a2a" stroke-width="1.0" stroke-linejoin="round"/>
<polyline points="887.0,861.0 972.0,871.4" fill="none" stroke="#2a2a2a" stroke-width="1.0" stroke-linejoin="round"/>
<polyline points="990.0,874.0 1010.0,876.6" fill="none" stroke="#2a2a2a" stroke-width="1.0" stroke-linejoin="round"/>
<polyline points="1037.0,880.0 1116.5,890.0" fill="none" stroke="#2a2a2a" stroke-width="1.0" stroke-linejoin="round"/>
<polyline points="1164.8,895.8 1220.0,903.0" fill="none" stroke="#2a2a2a" stroke-width="1.0" stroke-linejoin="round"/>
<polyline points="28.0,729.3 171.0,746.5" fill="none" stroke="#2a2a2a" stroke-width="1.0" stroke-linejoin="round"/>
<polyline points="186.5,747.6 297.9,760.4" fill="none" stroke="#2a2a2a" stroke-width="1.0" stroke-linejoin="round"/>
<polyline points="232.6,710.0 295.0,717.5" fill="none" stroke="#2a2a2a" stroke-width="1.0" stroke-linejoin="round"/>
<polyline points="231.0,568.0 279.0,573.0" fill="none" stroke="#2a2a2a" stroke-width="1.0" stroke-linejoin="round"/>
<polyline points="225.8,588.0 287.0,594.4" fill="none" stroke="#2a2a2a" stroke-width="1.0" stroke-linejoin="round"/>
<polyline points="1115.0,803.4 1258.6,820.5" fill="none" stroke="#2a2a2a" stroke-width="1.0" stroke-linejoin="round"/>
<polyline points="1274.0,822.0 1291.0,824.0" fill="none" stroke="#2a2a2a" stroke-width="1.0" stroke-linejoin="round"/>
<polyline points="1307.0,826.0 1321.0,827.6" fill="none" stroke="#2a2a2a" stroke-width="1.0" stroke-linejoin="round"/>
<polyline points="1370.0,834.0 1380.8,835.0" fill="none" stroke="#2a2a2a" stroke-width="1.0" stroke-linejoin="round"/>
<polyline points="1101.0,864.5 1221.7,878.7" fill="none" stroke="#2a2a2a" stroke-width="1.0" stroke-linejoin="round"/>
<polyline points="1237.0,880.0 1256.0,882.0" fill="none" stroke="#2a2a2a" stroke-width="1.0" stroke-linejoin="round"/>
<polyline points="1318.0,889.0 1325.0,890.0" fill="none" stroke="#2a2a2a" stroke-width="1.0" stroke-linejoin="round"/>
<polyline points="976.0,546.7 1040.0,554.5" fill="none" stroke="#2a2a2a" stroke-width="1.0" stroke-linejoin="round"/>
<polyline points="935.0,580.0 1025.0,592.0" fill="none" stroke="#2a2a2a" stroke-width="1.0" stroke-linejoin="round"/>
<polyline points="962.0,633.0 1025.0,642.0" fill="none" stroke="#2a2a2a" stroke-width="1.0" stroke-linejoin="round"/>
<polyline points="108.8,676.6 127.7,678.8" fill="none" stroke="#2a2a2a" stroke-width="1.0" stroke-linejoin="round"/>
<polyline points="720.0,440.0 745.0,443.0" fill="none" stroke="#2a2a2a" stroke-width="1.0" stroke-linejoin="round"/>
<polyline points="776.0,447.0 790.0,449.0" fill="none" stroke="#2a2a2a" stroke-width="1.0" stroke-linejoin="round"/>
<polyline points="826.0,454.0 890.0,462.5" fill="none" stroke="#2a2a2a" stroke-width="1.0" stroke-linejoin="round"/>
<polyline points="978.0,473.0 1003.0,476.0" fill="none" stroke="#2a2a2a" stroke-width="1.0" stroke-linejoin="round"/>
<polyline points="1024.0,479.0 1030.0,480.0" fill="none" stroke="#2a2a2a" stroke-width="1.0" stroke-linejoin="round"/>
<polyline points="705.0,597.0 705.0,597.0" fill="none" stroke="#2a2a2a" stroke-width="1.0" stroke-linejoin="round"/>
<path d="M218.5,414.4 C217.5,412 218.5,410.5 220.5,409 L269.5,376 L276,375.5 L278,374.5 L291.8,373 L342.5,379 L346.5,381.5 L347.5,385 L345.5,387.5 L303.5,417 L297,418.5 L228,419.5 C223,419.5 219.5,417 218.5,414.4 Z" fill="none" stroke="#000" stroke-width="2.8" stroke-linejoin="round" stroke-linecap="round"/>
<rect x="205.5" y="419" width="8" height="20" rx="3.5" fill="#000" stroke="#000" stroke-width="1.5"/>
<ellipse cx="210.0" cy="422.5" rx="2.5" ry="2.5" fill="none" stroke="#fff" stroke-width="1.2"/>
<line x1="206.0" y1="428.0" x2="208.0" y2="428.0" stroke="#fff" stroke-width="1.0"/>
<line x1="206.0" y1="432.0" x2="208.0" y2="432.0" stroke="#fff" stroke-width="1.0"/>
<line x1="206.0" y1="436.0" x2="208.0" y2="436.0" stroke="#fff" stroke-width="1.0"/>
<line x1="210.0" y1="439.0" x2="210.0" y2="444.0" stroke="#000" stroke-width="1.2"/>
<path d="M284,488 L359.4,443 L359,427 L284,473.3 Z" fill="#fff" stroke="#000" stroke-width="2.0" stroke-linejoin="round" stroke-linecap="round"/>
<path d="M286,488 L357,444 C358,462 357,490 353,503 C356,515 357,535 352,548 C349,554 345,557 340,559 L340,760 L300,760 L294,720 L288,594 Z" fill="#fff" stroke="#000" stroke-width="2.0" stroke-linejoin="round" stroke-linecap="round"/>
<path d="M210.3,463.5 L278,419 L358.8,427 L284,473.3 Z" fill="#fff" stroke="#000" stroke-width="2.0" stroke-linejoin="round" stroke-linecap="round"/>
<path d="M224.3,462.3 L275.4,425.8 L344.8,433 L285,466 Z" fill="none" stroke="#000" stroke-width="1.8" stroke-linejoin="round" stroke-linecap="round"/>
<path d="M230,462 L274,430 L280,430" fill="none" stroke="#000" stroke-width="1.2" stroke-linejoin="round" stroke-linecap="round"/>
<path d="M278,420 L278,466 M287.6,421 L287.6,468 M296,424 L296,462" fill="none" stroke="#000" stroke-width="1.8" stroke-linejoin="round" stroke-linecap="round"/>
<ellipse cx="266.0" cy="458.0" rx="6.5" ry="9.5" fill="none" stroke="#000" stroke-width="1.8"/>
<path d="M331,427 L331,450 M345,431 L345,446" fill="none" stroke="#000" stroke-width="1.6" stroke-linejoin="round" stroke-linecap="round"/>
<path d="M279,465 L284,463.5 L295,465 L295,474.5 L284,474 Z" fill="#fff" stroke="#000" stroke-width="1.8" stroke-linejoin="round" stroke-linecap="round"/>
<path d="M228,458 L235,455.5 L242.6,457 L242.6,463.5" fill="none" stroke="#000" stroke-width="1.6" stroke-linejoin="round" stroke-linecap="round"/>
<path d="M233,445 L241,438 L248.7,439 L248.7,445" fill="none" stroke="#000" stroke-width="1.6" stroke-linejoin="round" stroke-linecap="round"/>
<path d="M210.3,463.5 L284,473.3 L284,488 L210.3,480 Z" fill="#fff" stroke="#000" stroke-width="2.0" stroke-linejoin="round" stroke-linecap="round"/>
<line x1="219.5" y1="466.0" x2="219.5" y2="481.0" stroke="#000" stroke-width="1.6"/>
<line x1="222.0" y1="471.0" x2="282.0" y2="478.0" stroke="#000" stroke-width="1.2"/>
<path d="M192,461 L212,463 L212,489 L192,487 A5,13 0 0 1 192,461 Z" fill="#fff" stroke="#000" stroke-width="2.0" stroke-linejoin="round" stroke-linecap="round"/>
<ellipse cx="192.0" cy="474.0" rx="4.5" ry="13.0" fill="#fff" stroke="#000" stroke-width="2.0"/>
<path d="M214,489 L229,490.5 L229,504.5 L214,503 A3.5,7 0 0 1 214,489 Z" fill="#fff" stroke="#000" stroke-width="2.0" stroke-linejoin="round" stroke-linecap="round"/>
<path d="M229,482 C225,510 226,545 238,565 L240,600 L251.5,704 L257.8,765.6 L260.3,820 C263,832 270,840 281,844 C295,848.5 312,846 322,838 C328,832 331,826 332,818 L340,760 L294,760 L294,720 L288,594 L275.4,580 L271.8,488 Z" fill="#fff" stroke="#000" stroke-width="2.0" stroke-linejoin="round" stroke-linecap="round"/>
<line x1="235.3" y1="483.0" x2="243.8" y2="580.0" stroke="#000" stroke-width="1.8"/>
<line x1="271.8" y1="488.0" x2="275.4" y2="580.0" stroke="#000" stroke-width="1.8"/>
<path d="M288,594 L294,720 L294,803" fill="none" stroke="#000" stroke-width="2.0" stroke-linejoin="round" stroke-linecap="round"/>
<path d="M240,600 L251.5,704.3" fill="none" stroke="#000" stroke-width="1.8" stroke-linejoin="round" stroke-linecap="round"/>
<path d="M247,600 L256,703" fill="none" stroke="#000" stroke-width="1.8" stroke-linejoin="round" stroke-linecap="round"/>
<path d="M256,603.5 L265.3,695" fill="none" stroke="#000" stroke-width="1.8" stroke-linejoin="round" stroke-linecap="round"/>
<path d="M261.8,603.5 L270,705.5" fill="none" stroke="#000" stroke-width="1.8" stroke-linejoin="round" stroke-linecap="round"/>
<path d="M274.4,603.5 L279,706.6" fill="none" stroke="#000" stroke-width="1.8" stroke-linejoin="round" stroke-linecap="round"/>
<path d="M243,769 L259,771" fill="none" stroke="#000" stroke-width="1.6" stroke-linejoin="round" stroke-linecap="round"/>
<path d="M282.4,768 L282.4,805" fill="none" stroke="#000" stroke-width="1.6" stroke-linejoin="round" stroke-linecap="round"/>
<path d="M260.3,802.2 L282.4,805 L293,804.5" fill="none" stroke="#000" stroke-width="1.8" stroke-linejoin="round" stroke-linecap="round"/>
<path d="M265,805 C266,826 272,838 290,843 C306,846 322,838 328,826" fill="none" stroke="#000" stroke-width="1.6" stroke-linejoin="round" stroke-linecap="round"/>
<path d="M282.4,805 C283,822 288,834 300,838.5 C312,842 322,836 328.5,824.3" fill="none" stroke="#000" stroke-width="1.6" stroke-linejoin="round" stroke-linecap="round"/>
<path d="M293,804.5 C294,818 298,828 308,832" fill="none" stroke="#000" stroke-width="1.4" stroke-linejoin="round" stroke-linecap="round"/>
<path d="M282,507 C282,503 286,502 290,503 L303,505 C306,506 306,516 303,518.6 L286,517 C282,516 281.5,511 282,507 Z" fill="#fff" stroke="#000" stroke-width="2.2" stroke-linejoin="round" stroke-linecap="round"/>
<path d="M285.8,519 L287.5,600 M294,519 L296,566" fill="none" stroke="#000" stroke-width="1.8" stroke-linejoin="round" stroke-linecap="round"/>
<path d="M304.6,523 C306,545 307,556 308,561.6 C311,570 316,573 320,572.7 C327,572 332,567 335.6,560.7" fill="none" stroke="#000" stroke-width="1.8" stroke-linejoin="round" stroke-linecap="round"/>
<path d="M300,540 C302,562 305,576 311,581 C320,586 332,576 339,561" fill="none" stroke="#000" stroke-width="1.8" stroke-linejoin="round" stroke-linecap="round"/>
<path d="M287.5,575 L308,566 M287.5,590 L311,580" fill="none" stroke="#000" stroke-width="1.6" stroke-linejoin="round" stroke-linecap="round"/>
<ellipse cx="301.0" cy="483.0" rx="5.5" ry="13.5" fill="#fff" stroke="#000" stroke-width="2.0"/>
<ellipse cx="319.5" cy="489.0" rx="12.5" ry="20.0" fill="#fff" stroke="#000" stroke-width="1.8"/>
<ellipse cx="322.0" cy="490.0" rx="8.0" ry="16.0" fill="none" stroke="#000" stroke-width="2.2"/>
<ellipse cx="347.0" cy="473.5" rx="10.0" ry="22.5" fill="#fff" stroke="#000" stroke-width="3.2"/>
<ellipse cx="347.5" cy="474.0" rx="6.5" ry="18.0" fill="none" stroke="#000" stroke-width="2.0"/>
<ellipse cx="329.0" cy="533.0" rx="17.0" ry="23.0" fill="#fff" stroke="#000" stroke-width="1.8"/>
<ellipse cx="334.5" cy="528.0" rx="11.5" ry="23.0" fill="#fff" stroke="#000" stroke-width="3.0"/>
<ellipse cx="336.0" cy="529.0" rx="7.5" ry="18.5" fill="none" stroke="#000" stroke-width="2.0"/>
<ellipse cx="348.0" cy="540.0" rx="3.5" ry="6.0" fill="none" stroke="#000" stroke-width="1.6"/>
<path d="M240,556 L244,552 L268,555.5 L269,592 L240,589 Z" fill="#fff" stroke="#000" stroke-width="2.0" stroke-linejoin="round" stroke-linecap="round"/>
<path d="M240,556 L266,559 L268,555.5" fill="none" stroke="#000" stroke-width="1.6" stroke-linejoin="round" stroke-linecap="round"/>
<ellipse cx="266.5" cy="571.0" rx="2.8" ry="5.0" fill="#fff" stroke="#000" stroke-width="2.0"/>
<path d="M232,581 L277,585 A4.5,9 0 0 1 277,603 L233,599 A2.5,9 0 0 1 232,581 Z" fill="#fff" stroke="#000" stroke-width="2.0" stroke-linejoin="round" stroke-linecap="round"/>
<ellipse cx="277.0" cy="594.0" rx="4.5" ry="9.0" fill="#fff" stroke="#000" stroke-width="2.0"/>
<ellipse cx="277.5" cy="594.0" rx="2.0" ry="4.0" fill="none" stroke="#000" stroke-width="1.4"/>
<path d="M239.5,702 L284,708 A5,10 0 0 1 284,727 L240,721 A3,9.5 0 0 1 239.5,702 Z" fill="#fff" stroke="#000" stroke-width="2.0" stroke-linejoin="round" stroke-linecap="round"/>
<ellipse cx="284.0" cy="717.5" rx="5.0" ry="10.0" fill="#fff" stroke="#000" stroke-width="2.0"/>
<ellipse cx="284.5" cy="717.5" rx="2.2" ry="4.5" fill="none" stroke="#000" stroke-width="1.4"/>
<path d="M243,745.5 L286,751 A5,10 0 0 1 286,770 L244,765 A3,9.5 0 0 1 243,745.5 Z" fill="#fff" stroke="#000" stroke-width="2.0" stroke-linejoin="round" stroke-linecap="round"/>
<ellipse cx="286.5" cy="760.0" rx="5.0" ry="10.0" fill="#fff" stroke="#000" stroke-width="2.0"/>
<ellipse cx="287.0" cy="760.0" rx="2.2" ry="4.5" fill="none" stroke="#000" stroke-width="1.4"/>
<path d="M311,755 L334.5,759.5 A13.5,30 0 0 1 334.5,819.5 L311,821 A11,33 0 0 1 311,755 Z" fill="#fff" stroke="#000" stroke-width="2"/>
<ellipse cx="311.0" cy="788.0" rx="11.0" ry="33.0" fill="none" stroke="#000" stroke-width="1.8"/>
<path d="M306,770 C303,785 304,805 310,815" fill="none" stroke="#000" stroke-width="1.4" stroke-linejoin="round" stroke-linecap="round"/>
<ellipse cx="334.5" cy="789.5" rx="13.5" ry="30.0" fill="#fff" stroke="#000" stroke-width="2.4"/>
<ellipse cx="332.5" cy="790.0" rx="10.5" ry="26.5" fill="none" stroke="#000" stroke-width="2.0"/>
<path d="M327,768 C331,780 331,802 327,813" fill="none" stroke="#000" stroke-width="1.6" stroke-linejoin="round" stroke-linecap="round"/>
<polyline points="195.4,457.0 230.8,460.4" fill="none" stroke="#2a2a2a" stroke-width="1.0" stroke-linejoin="round"/>
<polyline points="195.4,474.0 326.0,487.6" fill="none" stroke="#2a2a2a" stroke-width="1.0" stroke-linejoin="round"/>
<polyline points="206.3,495.8 248.5,499.8" fill="none" stroke="#2a2a2a" stroke-width="1.0" stroke-linejoin="round"/>
<polyline points="217.2,514.0 278.4,521.6" fill="none" stroke="#2a2a2a" stroke-width="1.0" stroke-linejoin="round"/>
<polyline points="275.7,510.0 308.0,514.0" fill="none" stroke="#2a2a2a" stroke-width="1.0" stroke-linejoin="round"/>
<polyline points="312.4,535.0 358.6,541.3" fill="none" stroke="#2a2a2a" stroke-width="1.0" stroke-linejoin="round"/>
<polyline points="236.0,702.0 290.0,708.0" fill="none" stroke="#2a2a2a" stroke-width="1.0" stroke-linejoin="round"/>
<polyline points="240.0,745.5 297.0,752.0" fill="none" stroke="#2a2a2a" stroke-width="1.0" stroke-linejoin="round"/>
<path d="M114.0,452.5 L117.5,451.5 A5.5,13.5 0 0 1 117.5,478.5 L114.0,479.5 A5.5,13.5 0 0 1 114.0,452.5 Z" fill="#fff" stroke="#000" stroke-width="2.4"/>
<ellipse cx="117.5" cy="465.0" rx="5.5" ry="13.5" fill="#fff" stroke="#000" stroke-width="2.4"/>
<ellipse cx="117.5" cy="465.0" rx="2.8" ry="11.8" fill="none" stroke="#000" stroke-width="1.8"/>
<path d="M134.0,437.5 L137.5,436.5 A5.5,13 0 0 1 137.5,462.5 L134.0,463.5 A5.5,13 0 0 1 134.0,437.5 Z" fill="#fff" stroke="#000" stroke-width="2.4"/>
<ellipse cx="137.5" cy="449.5" rx="5.5" ry="13.0" fill="#fff" stroke="#000" stroke-width="2.4"/>
<ellipse cx="137.5" cy="449.5" rx="2.8" ry="11.4" fill="none" stroke="#000" stroke-width="1.8"/>
<path d="M153.0,463.5 L156.0,462.5 A4,8.5 0 0 1 156.0,479.5 L153.0,480.5 A4,8.5 0 0 1 153.0,463.5 Z" fill="#fff" stroke="#000" stroke-width="2.6"/>
<ellipse cx="156.0" cy="471.0" rx="4.0" ry="8.5" fill="#fff" stroke="#000" stroke-width="2.6"/>
<ellipse cx="156.0" cy="471.0" rx="1.2" ry="3.0" fill="none" stroke="#000" stroke-width="2.08"/>
<path d="M124.5,491.0 L128.0,490.0 A5.5,13 0 0 1 128.0,516.0 L124.5,517.0 A5.5,13 0 0 1 124.5,491.0 Z" fill="#fff" stroke="#000" stroke-width="2.4"/>
<ellipse cx="128.0" cy="503.0" rx="5.5" ry="13.0" fill="#fff" stroke="#000" stroke-width="2.4"/>
<ellipse cx="128.0" cy="503.0" rx="2.8" ry="11.4" fill="none" stroke="#000" stroke-width="1.8"/>
<path d="M165.5,504.5 L177,498 L177,510 Z" fill="#000" stroke="#000" stroke-width="1.5"/>
<path d="M177.5,488.5 L180.5,488.5 A4,13 0 0 1 180.5,514.5 L177.5,514.5 A4,13 0 0 1 177.5,488.5 Z" fill="#fff" stroke="#000" stroke-width="2.2"/>
<ellipse cx="180.5" cy="501.5" rx="4.0" ry="13.0" fill="#fff" stroke="#000" stroke-width="2.2"/>
<path d="M183.0,495.0 L191.5,495.0 A3.2,7 0 0 1 191.5,509.0 L183.0,509.0 A3.2,7 0 0 1 183.0,495.0 Z" fill="#fff" stroke="#000" stroke-width="2.2"/>
<ellipse cx="191.5" cy="502.0" rx="3.2" ry="7.0" fill="#fff" stroke="#000" stroke-width="2.2"/>
<path d="M182,496 L187,495" fill="none" stroke="#000" stroke-width="2.6" stroke-linejoin="round" stroke-linecap="round"/>
<path d="M35,722.5 L41,722.0 A4.7,8.5 0 0 1 41,740.0 L35,739.5 A3.8,8.5 0 0 1 35,722.5 Z" fill="#fff" stroke="#000" stroke-width="3.0"/>
<ellipse cx="41.0" cy="731.0" rx="4.7" ry="8.5" fill="#fff" stroke="#000" stroke-width="3.0"/>
<ellipse cx="41.0" cy="731.0" rx="2.1" ry="4.2" fill="none" stroke="#000" stroke-width="1.8"/>
<rect x="34" y="725.0" width="3" height="11.9" fill="#000"/>
<path d="M99.5,668.3 L104.5,667.8 A4.5,8.2 0 0 1 104.5,685.2 L99.5,684.7 A3.7,8.2 0 0 1 99.5,668.3 Z" fill="#fff" stroke="#000" stroke-width="3.0"/>
<ellipse cx="104.5" cy="676.5" rx="4.5" ry="8.2" fill="#fff" stroke="#000" stroke-width="3.0"/>
<ellipse cx="104.5" cy="676.5" rx="2.0" ry="4.1" fill="none" stroke="#000" stroke-width="1.8"/>
<rect x="98.5" y="670.8" width="3" height="11.5" fill="#000"/>
<path d="M111.8,750 C106,760 106,780 110.7,786.7 C115,800 120,808 126.9,813.5 C135,824 143,830 151.6,831.8 C158,834 163,834 166.6,833" fill="#fff" stroke="#000" stroke-width="2.4" stroke-linejoin="round" stroke-linecap="round"/>
<path d="M113.9,651.7 L129.4,627.6 L172.3,606.6 L194.7,606.6 L197.2,663.7 C203,670 204,682 202.4,689.5 C200,696 198,698 197.8,705 L197.8,776.8 L192.6,776.8 C186,779 185,788 194.7,794.5 C188,810 184,826 176,830.8 C168,835 160,834.5 154.2,831.8 C143,826 132,815 126,803.8 C118,796 114,790 112,783 C109,772 110,760 111.8,750 C112,740 113,720 112.6,710.4 C113,700 114,690 112.6,682.6 Z" fill="#fff" stroke="#000" stroke-width="2.6" stroke-linejoin="round" stroke-linecap="round"/>
<path d="M119,653 L132.8,627.6 L174,609.6" fill="none" stroke="#000" stroke-width="1.6" stroke-linejoin="round" stroke-linecap="round"/>
<path d="M116,655 L119,653 L119,683" fill="none" stroke="#000" stroke-width="1.6" stroke-linejoin="round" stroke-linecap="round"/>
<path d="M120.8,655 C130,645 148,633 160.3,627.6 C164,626 166.5,629 166.3,633 L167.2,660 C166,663 164,664 160,665 C148,670 136,680 126.8,690.4 C123,692 122,688 122,682 Z" fill="#fff" stroke="#000" stroke-width="3.2" stroke-linejoin="round" stroke-linecap="round"/>
<path d="M124.5,657 C134,648 148,637 159,632 C162,631 163,633 163,636 L163.6,658 C150,664 138,672 127.5,683 C126,683 125.5,680 125.5,676 Z" fill="none" stroke="#000" stroke-width="1.4" stroke-linejoin="round" stroke-linecap="round"/>
<path d="M124,712 C124,706 125,702 128,699 C140,688 152,677 162.9,670.6 C166,669.5 168,672 168,675 L168.5,690 C167,694 163,696 159,697 C148,702 136,712 128,721 C125,722 124,718 124,712 Z" fill="#fff" stroke="#000" stroke-width="2.8" stroke-linejoin="round" stroke-linecap="round"/>
<path d="M127.5,711 C136,700 150,688 163,678" fill="none" stroke="#000" stroke-width="1.3" stroke-linejoin="round" stroke-linecap="round"/>
<path d="M169.7,614 L172.3,655 C175,668 177,676 176,700 L176,793" fill="none" stroke="#000" stroke-width="1.6" stroke-linejoin="round" stroke-linecap="round"/>
<path d="M175.8,608 L177.5,655" fill="none" stroke="#000" stroke-width="1.6" stroke-linejoin="round" stroke-linecap="round"/>
<path d="M190.4,608 L193,655 C196,665 198,675 198,690" fill="none" stroke="#000" stroke-width="1.6" stroke-linejoin="round" stroke-linecap="round"/>
<path d="M170,620.8 L193,620.8 M171,629 L193,630 M172,656 L195,657" fill="none" stroke="#000" stroke-width="1.6" stroke-linejoin="round" stroke-linecap="round"/>
<path d="M176,711 L197,712 M176,760 L197,761" fill="none" stroke="#000" stroke-width="1.4" stroke-linejoin="round" stroke-linecap="round"/>
<ellipse cx="179.2" cy="683.5" rx="6.4" ry="16.7" fill="#fff" stroke="#000" stroke-width="2.4"/>
<ellipse cx="180.5" cy="684.0" rx="3.8" ry="11.5" fill="none" stroke="#000" stroke-width="2.0"/>
<ellipse cx="181.0" cy="684.0" rx="1.5" ry="3.0" fill="#000" stroke="#000" stroke-width="1.8"/>
<path d="M184,675 L198,677 M184,692 L198,694" fill="none" stroke="#000" stroke-width="1.4" stroke-linejoin="round" stroke-linecap="round"/>
<path d="M126,743 C128,722 140,708 158,708.3 C170,712 177,730 179,754.5 C180,780 176,800 170,812" fill="none" stroke="#000" stroke-width="1.9" stroke-linejoin="round" stroke-linecap="round"/>
<ellipse cx="150.0" cy="767.0" rx="15.0" ry="41.0" fill="none" stroke="#000" stroke-width="1.9"/>
<ellipse cx="136.5" cy="754.5" rx="5.5" ry="13.0" fill="#fff" stroke="#000" stroke-width="1.9"/>
<path d="M131,748 C129,756 130,765 134,768 L136,766 C134,760 134,752 136,747 Z" fill="#000" stroke="#000" stroke-width="2.5"/>
<path d="M119,759 L137,770 L139,788 L123,783" fill="none" stroke="#000" stroke-width="1.8" stroke-linejoin="round" stroke-linecap="round"/>
<path d="M116,758 C114,780 120,800 131,814 C140,824 150,830 160,831" fill="none" stroke="#000" stroke-width="1.6" stroke-linejoin="round" stroke-linecap="round"/>
<path d="M137,770 C140,790 146,815 156,832" fill="none" stroke="#000" stroke-width="3.0" stroke-linejoin="round" stroke-linecap="round"/>
<path d="M176,793 C174,812 168,826 159.4,829.8" fill="none" stroke="#000" stroke-width="1.6" stroke-linejoin="round" stroke-linecap="round"/>
<path d="M148.3,808 C154,806 162,797 164.5,790" fill="none" stroke="#000" stroke-width="1.6" stroke-linejoin="round" stroke-linecap="round"/>
<ellipse cx="152.0" cy="803.0" rx="1.4" ry="1.6" fill="#000" stroke="#000" stroke-width="2"/>
<ellipse cx="116.5" cy="737.0" rx="1.6" ry="3.0" fill="#000" stroke="#000" stroke-width="2"/>
<path d="M220.5,757.0 L229.0,757.0 A8.5,19 0 0 1 229.0,795.0 L220.5,795.0 A8.5,19 0 0 1 220.5,757.0 Z" fill="#fff" stroke="#000" stroke-width="2.2"/>
<ellipse cx="229.0" cy="776.0" rx="8.5" ry="19.0" fill="#fff" stroke="#000" stroke-width="2.2"/>
<ellipse cx="229.0" cy="776.0" rx="5.8" ry="13.9" fill="none" stroke="#000" stroke-width="1.7600000000000002"/>
<ellipse cx="229.0" cy="776.0" rx="4.5" ry="13.0" fill="none" stroke="#000" stroke-width="2.0"/>
<path d="M538.0,402.5 L547.0,402.5 A6.3,15 0 0 1 547.0,432.5 L538.0,432.5 A6.3,15 0 0 1 538.0,402.5 Z" fill="#fff" stroke="#000" stroke-width="2.2"/>
<ellipse cx="547.0" cy="417.5" rx="6.3" ry="15.0" fill="#fff" stroke="#000" stroke-width="2.2"/>
<ellipse cx="547.0" cy="417.5" rx="3.7" ry="10.2" fill="none" stroke="#000" stroke-width="4.32"/>
<ellipse cx="547.0" cy="417.5" rx="1.6" ry="5.1" fill="none" stroke="#000" stroke-width="1.6"/>
<path d="M508.0,459.5 L517.8,459.5 A6.5,15.8 0 0 1 517.8,491.1 L508.0,491.1 A6.5,15.8 0 0 1 508.0,459.5 Z" fill="#fff" stroke="#000" stroke-width="2.2"/>
<ellipse cx="517.8" cy="475.3" rx="6.5" ry="15.8" fill="#fff" stroke="#000" stroke-width="2.2"/>
<ellipse cx="517.8" cy="475.3" rx="3.8" ry="10.7" fill="none" stroke="#000" stroke-width="4.32"/>
<ellipse cx="517.8" cy="475.3" rx="1.6" ry="5.4" fill="none" stroke="#000" stroke-width="1.6"/>
<g transform="translate(545.0 479.5) rotate(7.35)"><rect x="0.0" y="-7.5" width="6.0" height="15.0" fill="#fff" stroke="#000" stroke-width="2.0"/><rect x="6.0" y="-9.5" width="56.0" height="19.0" fill="#fff" stroke="#000" stroke-width="2.0"/><line x1="7.0" y1="-6.8" x2="61.0" y2="-6.8" stroke="#000" stroke-width="3.2"/><line x1="7.0" y1="-2.9" x2="61.0" y2="-2.9" stroke="#000" stroke-width="1.4"/><line x1="7.0" y1="2.4" x2="61.0" y2="2.4" stroke="#000" stroke-width="1.4"/><line x1="7.0" y1="6.8" x2="61.0" y2="6.8" stroke="#000" stroke-width="3.2"/><rect x="62.0" y="-9.0" width="9.0" height="18.0" fill="#fff" stroke="#000" stroke-width="2.0"/><rect x="71.0" y="-8.5" width="21.0" height="17.0" fill="#fff" stroke="#000" stroke-width="2.0"/><rect x="92.0" y="-8.5" width="30.0" height="17.0" fill="#fff" stroke="#000" stroke-width="2.0"/><rect x="122.0" y="-9.5" width="40.0" height="19.0" fill="#000" stroke="#000" stroke-width="2.0"/><line x1="124.2" y1="-7.0" x2="124.2" y2="7.0" stroke="#fff" stroke-width="0.5" opacity="0.35"/><line x1="126.4" y1="-7.0" x2="126.4" y2="7.0" stroke="#fff" stroke-width="0.5" opacity="0.35"/><line x1="128.7" y1="-7.0" x2="128.7" y2="7.0" stroke="#fff" stroke-width="0.5" opacity="0.35"/><line x1="130.9" y1="-7.0" x2="130.9" y2="7.0" stroke="#fff" stroke-width="0.5" opacity="0.35"/><line x1="133.1" y1="-7.0" x2="133.1" y2="7.0" stroke="#fff" stroke-width="0.5" opacity="0.35"/><line x1="135.3" y1="-7.0" x2="135.3" y2="7.0" stroke="#fff" stroke-width="0.5" opacity="0.35"/><line x1="137.6" y1="-7.0" x2="137.6" y2="7.0" stroke="#fff" stroke-width="0.5" opacity="0.35"/><line x1="139.8" y1="-7.0" x2="139.8" y2="7.0" stroke="#fff" stroke-width="0.5" opacity="0.35"/><line x1="142.0" y1="-7.0" x2="142.0" y2="7.0" stroke="#fff" stroke-width="0.5" opacity="0.35"/><line x1="144.2" y1="-7.0" x2="144.2" y2="7.0" stroke="#fff" stroke-width="0.5" opacity="0.35"/><line x1="146.4" y1="-7.0" x2="146.4" y2="7.0" stroke="#fff" stroke-width="0.5" opacity="0.35"/><line x1="148.7" y1="-7.0" x2="148.7" y2="7.0" stroke="#fff" stroke-width="0.5" opacity="0.35"/><line x1="150.9" y1="-7.0" x2="150.9" y2="7.0" stroke="#fff" stroke-width="0.5" opacity="0.35"/><line x1="153.1" y1="-7.0" x2="153.1" y2="7.0" stroke="#fff" stroke-width="0.5" opacity="0.35"/><line x1="155.3" y1="-7.0" x2="155.3" y2="7.0" stroke="#fff" stroke-width="0.5" opacity="0.35"/><line x1="157.6" y1="-7.0" x2="157.6" y2="7.0" stroke="#fff" stroke-width="0.5" opacity="0.35"/><line x1="159.8" y1="-7.0" x2="159.8" y2="7.0" stroke="#fff" stroke-width="0.5" opacity="0.35"/><ellipse cx="162.0" cy="0" rx="4.0" ry="9.5" fill="#fff" stroke="#000" stroke-width="2.0"/><path d="M0,-7.5 A3.1,7.5 0 0 0 0,7.5" fill="#fff" stroke="#000" stroke-width="2.0"/></g>
<path d="M682.0,422.5 L690.0,422.5 A5.5,11.5 0 0 1 690.0,445.5 L682.0,445.5 A5.5,11.5 0 0 1 682.0,422.5 Z" fill="#fff" stroke="#000" stroke-width="2.0"/>
<ellipse cx="690.0" cy="434.0" rx="5.5" ry="11.5" fill="#fff" stroke="#000" stroke-width="2.0"/>
<ellipse cx="684.0" cy="429.0" rx="1.2" ry="1.5" fill="#000" stroke="#000" stroke-width="2"/>
<clipPath id="gc1"><ellipse cx="754.8" cy="444.6" rx="14.1" ry="31.4"/></clipPath>
<ellipse cx="754.8" cy="444.6" rx="16.3" ry="33.6" fill="#000" stroke="#000" stroke-width="1.4" stroke-dasharray="2.10 2.10"/>
<ellipse cx="754.8" cy="444.6" rx="15.9" ry="33.0" fill="#000"/>
<g clip-path="url(#gc1)"><ellipse cx="756.4" cy="445.3" rx="14.2" ry="31.3" fill="none" stroke="#fff" stroke-width="3.5" stroke-dasharray="1.2 2.99"/></g>
<ellipse cx="758.0" cy="446.0" rx="11.0" ry="28.0" fill="#fff" stroke="#000" stroke-width="2.2"/>
<ellipse cx="758.0" cy="425.0" rx="1.4" ry="1.8" fill="#000" stroke="#000" stroke-width="2"/>
<path d="M756,430 L768.5,434 A5.5,11.5 0 0 1 768.5,457 L756,460 A4.3,15 0 0 1 756,430 Z" fill="#fff" stroke="#000" stroke-width="2"/>
<ellipse cx="756.0" cy="445.0" rx="4.3" ry="15.0" fill="none" stroke="#000" stroke-width="1.8"/>
<ellipse cx="768.5" cy="445.5" rx="5.5" ry="11.5" fill="#000" stroke="#000" stroke-width="2" stroke-dasharray="2 1.5"/>
<ellipse cx="769.5" cy="445.5" rx="2.2" ry="6.0" fill="none" stroke="#fff" stroke-width="1.4"/>
<clipPath id="gc2"><ellipse cx="807.5" cy="451.9" rx="15.6" ry="35.1"/></clipPath>
<ellipse cx="807.5" cy="451.9" rx="17.8" ry="37.3" fill="#000" stroke="#000" stroke-width="1.4" stroke-dasharray="2.01 2.01"/>
<ellipse cx="807.5" cy="451.9" rx="17.4" ry="36.7" fill="#000"/>
<g clip-path="url(#gc2)"><ellipse cx="809.5" cy="452.0" rx="15.8" ry="35.2" fill="none" stroke="#fff" stroke-width="4.0" stroke-dasharray="1.2 2.82"/></g>
<ellipse cx="811.5" cy="452.1" rx="12.8" ry="32.1" fill="#fff" stroke="#000" stroke-width="2.2"/>
<ellipse cx="811.5" cy="451.8" rx="4.5" ry="9.5" fill="none" stroke="#000" stroke-width="3.2"/>
<ellipse cx="813.7" cy="438.6" rx="1.4" ry="1.8" fill="#000" stroke="#000" stroke-width="2"/>
<g transform="translate(893.0 463.0) rotate(6.20)"><rect x="0.0" y="-7.5" width="7.0" height="15.0" fill="#fff" stroke="#000" stroke-width="2.0"/><rect x="7.0" y="-9.5" width="50.0" height="19.0" fill="#fff" stroke="#000" stroke-width="2.0"/><line x1="8.0" y1="-6.8" x2="56.0" y2="-6.8" stroke="#000" stroke-width="3.2"/><line x1="8.0" y1="-2.9" x2="56.0" y2="-2.9" stroke="#000" stroke-width="1.4"/><line x1="8.0" y1="2.4" x2="56.0" y2="2.4" stroke="#000" stroke-width="1.4"/><line x1="8.0" y1="6.8" x2="56.0" y2="6.8" stroke="#000" stroke-width="3.2"/><rect x="57.0" y="-12.0" width="18.0" height="24.0" fill="#000" stroke="#000" stroke-width="2.0"/><line x1="59.0" y1="-7.2" x2="73.0" y2="-7.2" stroke="#fff" stroke-width="1"/><line x1="59.0" y1="-2.4" x2="73.0" y2="-2.4" stroke="#fff" stroke-width="1"/><line x1="59.0" y1="2.4" x2="73.0" y2="2.4" stroke="#fff" stroke-width="1"/><line x1="59.0" y1="7.2" x2="73.0" y2="7.2" stroke="#fff" stroke-width="1"/><rect x="75.0" y="-7.0" width="11.0" height="14.0" fill="#fff" stroke="#000" stroke-width="2.0"/><ellipse cx="86.0" cy="0" rx="2.9" ry="7.0" fill="#fff" stroke="#000" stroke-width="2.0"/><path d="M0,-7.5 A3.1,7.5 0 0 0 0,7.5" fill="#fff" stroke="#000" stroke-width="2.0"/></g>
<path d="M1008.0,460.5 L1016.0,460.5 A8,17.5 0 0 1 1016.0,495.5 L1008.0,495.5 A8,17.5 0 0 1 1008.0,460.5 Z" fill="#fff" stroke="#000" stroke-width="2.2"/>
<ellipse cx="1016.0" cy="478.0" rx="8.0" ry="17.5" fill="#fff" stroke="#000" stroke-width="2.2"/>
<ellipse cx="1016.0" cy="478.0" rx="4.6" ry="11.9" fill="none" stroke="#000" stroke-width="4.32"/>
<ellipse cx="1016.0" cy="478.0" rx="1.8" ry="6.0" fill="none" stroke="#000" stroke-width="1.6"/>
<path d="M1097.0,473.5 L1104.0,473.5 A6.5,16.5 0 0 1 1104.0,506.5 L1097.0,506.5 A6.5,16.5 0 0 1 1097.0,473.5 Z" fill="#fff" stroke="#000" stroke-width="2.4"/>
<ellipse cx="1104.0" cy="490.0" rx="6.5" ry="16.5" fill="#fff" stroke="#000" stroke-width="2.4"/>
<ellipse cx="1104.0" cy="490.0" rx="4.0" ry="14.0" fill="none" stroke="#000" stroke-width="1.8"/>
<ellipse cx="1148.0" cy="495.7" rx="8.5" ry="21.0" fill="none" stroke="#000" stroke-width="3.0"/>
<ellipse cx="1148.0" cy="495.7" rx="6.5" ry="18.5" fill="none" stroke="#000" stroke-width="1.6"/>
<clipPath id="gc3"><ellipse cx="748.0" cy="505.8" rx="6.8" ry="15.3"/></clipPath>
<ellipse cx="748.0" cy="505.8" rx="9.0" ry="17.5" fill="#000" stroke="#000" stroke-width="1.4" stroke-dasharray="2.08 2.08"/>
<ellipse cx="748.0" cy="505.8" rx="8.6" ry="16.9" fill="#000"/>
<g clip-path="url(#gc3)"><ellipse cx="751.0" cy="505.9" rx="6.5" ry="14.3" fill="none" stroke="#fff" stroke-width="5.0" stroke-dasharray="1.2 2.97"/></g>
<ellipse cx="754.0" cy="506.0" rx="3.0" ry="10.0" fill="#fff" stroke="#000" stroke-width="2.2"/>
<path d="M748,491 L764,493 L764,521 L748,520 Z" fill="#000"/>
<clipPath id="gc4"><ellipse cx="764.0" cy="507.1" rx="5.8" ry="11.9"/></clipPath>
<ellipse cx="764.0" cy="507.1" rx="8.0" ry="14.1" fill="#000" stroke="#000" stroke-width="1.4" stroke-dasharray="1.93 1.93"/>
<ellipse cx="764.0" cy="507.1" rx="7.6" ry="13.5" fill="#000"/>
<g clip-path="url(#gc4)"><ellipse cx="766.2" cy="507.1" rx="5.8" ry="11.1" fill="none" stroke="#fff" stroke-width="5.0" stroke-dasharray="1.2 2.66"/></g>
<ellipse cx="768.5" cy="507.0" rx="2.5" ry="7.0" fill="#fff" stroke="#000" stroke-width="2.2"/>
<path d="M751,494 C748,502 748,514 751,521" fill="none" stroke="#fff" stroke-width="1.5" stroke-linejoin="round" stroke-linecap="round"/>
<path d="M850.0,502.5 L858.0,502.5 A8,17 0 0 1 858.0,536.5 L850.0,536.5 A8,17 0 0 1 850.0,502.5 Z" fill="#fff" stroke="#000" stroke-width="2.2"/>
<ellipse cx="858.0" cy="519.5" rx="8.0" ry="17.0" fill="#fff" stroke="#000" stroke-width="2.2"/>
<ellipse cx="858.0" cy="519.5" rx="4.6" ry="11.6" fill="none" stroke="#000" stroke-width="4.32"/>
<ellipse cx="858.0" cy="519.5" rx="1.8" ry="5.8" fill="none" stroke="#000" stroke-width="1.6"/>
<path d="M895,540 C900,530 901,512 896,505 C892,500 886,502 883,510 C879,520 880,535 885,542" fill="none" stroke="#000" stroke-width="3.0" stroke-linejoin="round" stroke-linecap="round"/>
<path d="M885,542 L887,539 M895,540 L893,536" fill="none" stroke="#000" stroke-width="3.0" stroke-linejoin="round" stroke-linecap="round"/>
<path d="M916.0,511.0 L924.0,511.0 A8,17 0 0 1 924.0,545.0 L916.0,545.0 A8,17 0 0 1 916.0,511.0 Z" fill="#fff" stroke="#000" stroke-width="2.2"/>
<ellipse cx="924.0" cy="528.0" rx="8.0" ry="17.0" fill="#fff" stroke="#000" stroke-width="2.2"/>
<ellipse cx="924.0" cy="527.5" rx="5.5" ry="12.0" fill="none" stroke="#000" stroke-width="1.6"/>
<ellipse cx="924.0" cy="527.5" rx="3.2" ry="7.5" fill="none" stroke="#000" stroke-width="2.0"/>
<path d="M968,537.4 C975,536 980,538 983.7,538.4 C986,539.5 986.5,542 985.6,544 L971.6,639.8 C970,643 968,644.5 966,644 C964.5,643.5 963.5,642 962.3,641.6 C958,640 955.5,639 954,637 C950,632 949,622 949.3,613.7 C949.5,606 950.5,600 952,595 C954,588 957,584 958.6,581 C959,572 959,565 959.5,558 C960,550 961,546 963,544 C964.5,540 966,538 968,537.4 Z" fill="#fff" stroke="#000" stroke-width="2.6" stroke-linejoin="round" stroke-linecap="round"/>
<path d="M963.5,546 C962,552 962,565 961.5,580 C959,588 953,600 952,614 C952,625 954,634 958,638" fill="none" stroke="#000" stroke-width="1.1" stroke-linejoin="round" stroke-linecap="round"/>
<ellipse cx="982.3" cy="546.7" rx="2.4" ry="4.4" fill="#fff" stroke="#000" stroke-width="2.0"/>
<ellipse cx="962.8" cy="584.4" rx="2.4" ry="4.4" fill="#fff" stroke="#000" stroke-width="2.0"/>
<ellipse cx="967.0" cy="635.0" rx="2.4" ry="4.4" fill="#fff" stroke="#000" stroke-width="2.0"/>
<ellipse cx="972.5" cy="542.0" rx="1.4" ry="1.4" fill="#000" stroke="#000" stroke-width="2"/>
<line x1="975.6" y1="546.0" x2="988.0" y2="547.6" stroke="#2a2a2a" stroke-width="1.0"/>
<g transform="translate(1012.6 551.5) rotate(7.5)"><rect x="0" y="-3" width="9" height="6" rx="1" fill="#fff" stroke="#000" stroke-width="2"/><line x1="2" y1="0" x2="7" y2="0" stroke="#777" stroke-width="1.4"/><ellipse cx="12" cy="0" rx="3.6" ry="7.2" fill="#000"/><ellipse cx="15.5" cy="0" rx="3" ry="5" fill="#000"/><rect x="14" y="-2.5" width="2" height="2" fill="#fff"/><rect x="14" y="1" width="2" height="2" fill="#fff"/></g>
<g transform="translate(993.5 588.5) rotate(7.5)"><rect x="0" y="-3" width="9" height="6" rx="1" fill="#fff" stroke="#000" stroke-width="2"/><line x1="2" y1="0" x2="7" y2="0" stroke="#777" stroke-width="1.4"/><ellipse cx="12" cy="0" rx="3.6" ry="7.2" fill="#000"/><ellipse cx="15.5" cy="0" rx="3" ry="5" fill="#000"/><rect x="14" y="-2.5" width="2" height="2" fill="#fff"/><rect x="14" y="1" width="2" height="2" fill="#fff"/></g>
<g transform="translate(997.2 638.5) rotate(7.5)"><rect x="0" y="-3" width="9" height="6" rx="1" fill="#fff" stroke="#000" stroke-width="2"/><line x1="2" y1="0" x2="7" y2="0" stroke="#777" stroke-width="1.4"/><ellipse cx="12" cy="0" rx="3.6" ry="7.2" fill="#000"/><ellipse cx="15.5" cy="0" rx="3" ry="5" fill="#000"/><rect x="14" y="-2.5" width="2" height="2" fill="#fff"/><rect x="14" y="1" width="2" height="2" fill="#fff"/></g>
<line x1="755.0" y1="546.0" x2="755.0" y2="616.4" stroke="#2a2a2a" stroke-width="1.0"/>
<path d="M750,553 L753,550 L758,550 L760,553 L760,558 L757,560 L752,560 L750,558 Z" fill="#000"/>
<rect x="752.5" y="559" width="5" height="10" rx="1.5" fill="#000"/>
<g transform="translate(722.0 599.0) rotate(6.30)"><rect x="0.0" y="-6.8" width="17.0" height="13.6" fill="#fff" stroke="#000" stroke-width="2.0"/><rect x="17.0" y="-6.5" width="80.0" height="13.0" fill="#fff" stroke="#000" stroke-width="2.0"/><ellipse cx="97.0" cy="0" rx="2.7" ry="6.5" fill="#fff" stroke="#000" stroke-width="2.0"/><path d="M0,-6.8 A2.9,6.8 0 0 0 0,6.8" fill="#fff" stroke="#000" stroke-width="2.0"/></g>
<ellipse cx="707.0" cy="597.5" rx="2.6" ry="6.8" fill="#fff" stroke="#000" stroke-width="2.6"/>
<ellipse cx="712.0" cy="598.0" rx="2.6" ry="6.8" fill="#fff" stroke="#000" stroke-width="2.6"/>
<ellipse cx="717.0" cy="598.6" rx="2.6" ry="6.8" fill="#fff" stroke="#000" stroke-width="2.6"/>
<ellipse cx="722.0" cy="599.1" rx="2.6" ry="6.8" fill="#fff" stroke="#000" stroke-width="2.6"/>
<ellipse cx="727.0" cy="599.7" rx="2.6" ry="6.8" fill="#fff" stroke="#000" stroke-width="2.6"/>
<ellipse cx="732.0" cy="600.2" rx="2.6" ry="6.8" fill="#fff" stroke="#000" stroke-width="2.6"/>
<ellipse cx="737.0" cy="600.0" rx="2.4" ry="6.5" fill="#fff" stroke="#000" stroke-width="2.2"/>
<line x1="740.0" y1="600.5" x2="815.0" y2="609.0" stroke="#000" stroke-width="1.2"/>
<ellipse cx="760.0" cy="603.0" rx="1.6" ry="1.8" fill="#000" stroke="#000" stroke-width="2"/>
<line x1="785.0" y1="604.0" x2="800.0" y2="606.0" stroke="#000" stroke-width="1.4"/>
<ellipse cx="812.0" cy="607.0" rx="2.8" ry="3.2" fill="none" stroke="#000" stroke-width="1.8"/>
<path d="M849,603 L862,599.6 L868,604 L869,627 L865,631.5 L852,631 L848,626 Z" fill="#fff" stroke="#000" stroke-width="2.2" stroke-linejoin="round" stroke-linecap="round"/>
<path d="M852,612 L865,610 M851,620 L866,618" fill="none" stroke="#000" stroke-width="2.0" stroke-linejoin="round" stroke-linecap="round"/>
<ellipse cx="865.0" cy="615.0" rx="3.0" ry="8.0" fill="#fff" stroke="#000" stroke-width="2.4"/>
<rect x="852" y="604" width="10" height="6" fill="#000"/>
<rect x="853" y="624" width="10" height="6" fill="#000"/>
<path d="M880.0,606.5 L885.0,606.5 A5.5,10.5 0 0 1 885.0,627.5 L880.0,627.5 A5.5,10.5 0 0 1 880.0,606.5 Z" fill="#fff" stroke="#000" stroke-width="2.2"/>
<ellipse cx="885.0" cy="617.0" rx="5.5" ry="10.5" fill="#fff" stroke="#000" stroke-width="2.2"/>
<ellipse cx="885.0" cy="617.0" rx="2.2" ry="5.0" fill="none" stroke="#000" stroke-width="1.8"/>
<path d="M445.0,641.5 L452.0,641.5 A7.5,17 0 0 1 452.0,675.5 L445.0,675.5 A7.5,17 0 0 1 445.0,641.5 Z" fill="#fff" stroke="#000" stroke-width="2.2"/>
<ellipse cx="452.0" cy="658.5" rx="7.5" ry="17.0" fill="#fff" stroke="#000" stroke-width="2.2"/>
<ellipse cx="452.0" cy="658.5" rx="4.3" ry="11.6" fill="none" stroke="#000" stroke-width="4.32"/>
<ellipse cx="452.0" cy="658.5" rx="1.6" ry="5.8" fill="none" stroke="#000" stroke-width="1.6"/>
<ellipse cx="444.0" cy="646.0" rx="1.4" ry="1.8" fill="#000" stroke="#000" stroke-width="2"/>
<clipPath id="gc5"><ellipse cx="489.6" cy="664.8" rx="13.4" ry="33.0"/></clipPath>
<ellipse cx="489.6" cy="664.8" rx="15.6" ry="35.2" fill="#000" stroke="#000" stroke-width="1.4" stroke-dasharray="2.04 2.04"/>
<ellipse cx="489.6" cy="664.8" rx="15.2" ry="34.6" fill="#000"/>
<g clip-path="url(#gc5)"><ellipse cx="492.0" cy="664.6" rx="13.6" ry="33.3" fill="none" stroke="#fff" stroke-width="4.0" stroke-dasharray="1.2 2.89"/></g>
<ellipse cx="494.4" cy="664.5" rx="10.7" ry="30.5" fill="#fff" stroke="#000" stroke-width="2.2"/>
<path d="M492,644.5 L508,644 A8.5,19.5 0 0 1 508,683 L492,682.5 A5,19 0 0 1 492,644.5 Z" fill="#000" stroke="#000" stroke-width="2"/>
<line x1="496.0" y1="652.0" x2="504.0" y2="652.5" stroke="#fff" stroke-width="1.2"/>
<line x1="496.0" y1="660.0" x2="504.0" y2="660.5" stroke="#fff" stroke-width="1.2"/>
<line x1="496.0" y1="668.0" x2="504.0" y2="668.5" stroke="#fff" stroke-width="1.2"/>
<line x1="496.0" y1="676.0" x2="504.0" y2="676.5" stroke="#fff" stroke-width="1.2"/>
<ellipse cx="508.5" cy="663.5" rx="8" ry="19.5" fill="#000" stroke="#000" stroke-width="2" stroke-dasharray="2.5 1.5"/>
<ellipse cx="509.5" cy="663.5" rx="4.5" ry="12.0" fill="none" stroke="#fff" stroke-width="2.0"/>
<ellipse cx="510.0" cy="663.5" rx="2.5" ry="8.0" fill="none" stroke="#fff" stroke-width="1.6"/>
<path d="M495,648 C492,658 492,670 495,680" fill="none" stroke="#fff" stroke-width="1.6" stroke-linejoin="round" stroke-linecap="round"/>
<ellipse cx="489.0" cy="669.0" rx="1.2" ry="1.5" fill="#000" stroke="#000" stroke-width="2"/>
<ellipse cx="555.5" cy="673.0" rx="7.1" ry="18.6" fill="#fff" stroke="#000" stroke-width="3.9"/>
<circle cx="563.2" cy="678.0" r="3.0" fill="#fff" stroke="#000" stroke-width="1.9"/>
<circle cx="561.2" cy="686.8" r="3.0" fill="#fff" stroke="#000" stroke-width="1.9"/>
<circle cx="557.6" cy="691.8" r="3.0" fill="#fff" stroke="#000" stroke-width="1.9"/>
<circle cx="553.4" cy="691.8" r="3.0" fill="#fff" stroke="#000" stroke-width="1.9"/>
<circle cx="549.8" cy="686.8" r="3.0" fill="#fff" stroke="#000" stroke-width="1.9"/>
<circle cx="547.8" cy="678.0" r="3.0" fill="#fff" stroke="#000" stroke-width="1.9"/>
<circle cx="547.8" cy="668.0" r="3.0" fill="#fff" stroke="#000" stroke-width="1.9"/>
<circle cx="549.8" cy="659.2" r="3.0" fill="#fff" stroke="#000" stroke-width="1.9"/>
<circle cx="553.4" cy="654.2" r="3.0" fill="#fff" stroke="#000" stroke-width="1.9"/>
<circle cx="557.6" cy="654.2" r="3.0" fill="#fff" stroke="#000" stroke-width="1.9"/>
<circle cx="561.2" cy="659.2" r="3.0" fill="#fff" stroke="#000" stroke-width="1.9"/>
<circle cx="563.2" cy="668.0" r="3.0" fill="#fff" stroke="#000" stroke-width="1.9"/>
<ellipse cx="555.5" cy="673.0" rx="7.1" ry="18.6" fill="none" stroke="#fff" stroke-width="2.7" stroke-dasharray="1.2 6.7"/>
<ellipse cx="558.0" cy="673.0" rx="7.1" ry="18.6" fill="#fff" stroke="#000" stroke-width="3.9"/>
<circle cx="565.7" cy="678.0" r="3.0" fill="#fff" stroke="#000" stroke-width="1.9"/>
<circle cx="563.7" cy="686.8" r="3.0" fill="#fff" stroke="#000" stroke-width="1.9"/>
<circle cx="560.1" cy="691.8" r="3.0" fill="#fff" stroke="#000" stroke-width="1.9"/>
<circle cx="555.9" cy="691.8" r="3.0" fill="#fff" stroke="#000" stroke-width="1.9"/>
<circle cx="552.3" cy="686.8" r="3.0" fill="#fff" stroke="#000" stroke-width="1.9"/>
<circle cx="550.3" cy="678.0" r="3.0" fill="#fff" stroke="#000" stroke-width="1.9"/>
<circle cx="550.3" cy="668.0" r="3.0" fill="#fff" stroke="#000" stroke-width="1.9"/>
<circle cx="552.3" cy="659.2" r="3.0" fill="#fff" stroke="#000" stroke-width="1.9"/>
<circle cx="555.9" cy="654.2" r="3.0" fill="#fff" stroke="#000" stroke-width="1.9"/>
<circle cx="560.1" cy="654.2" r="3.0" fill="#fff" stroke="#000" stroke-width="1.9"/>
<circle cx="563.7" cy="659.2" r="3.0" fill="#fff" stroke="#000" stroke-width="1.9"/>
<circle cx="565.7" cy="668.0" r="3.0" fill="#fff" stroke="#000" stroke-width="1.9"/>
<ellipse cx="558.0" cy="673.0" rx="7.1" ry="18.6" fill="none" stroke="#fff" stroke-width="2.7" stroke-dasharray="1.2 6.7"/>
<ellipse cx="558.0" cy="673.0" rx="4.4" ry="15.9" fill="#fff" stroke="#000" stroke-width="1.8"/>
<ellipse cx="566.5" cy="673.7" rx="7.5" ry="13" fill="#000" stroke="#000" stroke-width="2"/>
<path d="M563,663 C560,668 560,680 563,685" fill="none" stroke="#fff" stroke-width="2"/>
<path d="M611.0,544.0 L619.0,545.0 L624.0,553.0 L624.5,580.0 L624.0,620.0 L628.0,680.0 L630.0,700.0 L634.0,800.0 L636.0,830.0 L635.0,850.0 L628.0,868.0 L614.0,876.0 L604.0,868.0 L602.0,850.0 L602.0,700.0 L602.0,568.0 L604.0,553.0 L611.0,544.0" fill="none" stroke="#000" stroke-width="17.0" stroke-linejoin="round"/>
<g transform="translate(611.0 544.0) rotate(-82.9)"><circle cx="-8.0" cy="0" r="2.6" fill="#000"/><circle cx="8.0" cy="0" r="2.6" fill="#000"/><rect x="-9.0" y="-5.3" width="18.0" height="10.6" rx="3" fill="#000"/><rect x="-3.2" y="-3.4" width="4.2" height="6.8" rx="0.5" fill="#fff"/><rect x="-7.2" y="-2" width="1.1" height="4" fill="#fff"/><rect x="4.6" y="-1.8" width="1.1" height="3.6" fill="#fff"/></g><g transform="translate(620.3 547.1) rotate(-32.0)"><circle cx="-8.0" cy="0" r="2.6" fill="#000"/><circle cx="8.0" cy="0" r="2.6" fill="#000"/><rect x="-9.0" y="-5.3" width="18.0" height="10.6" rx="3" fill="#000"/><rect x="-4.6" y="-3.2" width="3.8" height="6.4" rx="0.5" fill="#fff"/><rect x="2.8" y="-2.6" width="1.3" height="5.2" fill="#fff"/></g><g transform="translate(624.1 556.5) rotate(-1.1)"><circle cx="-8.0" cy="0" r="2.6" fill="#000"/><circle cx="8.0" cy="0" r="2.6" fill="#000"/><rect x="-9.0" y="-5.3" width="18.0" height="10.6" rx="3" fill="#000"/><rect x="-3.2" y="-3.4" width="4.2" height="6.8" rx="0.5" fill="#fff"/><rect x="-7.2" y="-2" width="1.1" height="4" fill="#fff"/><rect x="4.6" y="-1.8" width="1.1" height="3.6" fill="#fff"/></g><g transform="translate(624.3 567.0) rotate(-1.1)"><circle cx="-8.0" cy="0" r="2.6" fill="#000"/><circle cx="8.0" cy="0" r="2.6" fill="#000"/><rect x="-9.0" y="-5.3" width="18.0" height="10.6" rx="3" fill="#000"/><rect x="-4.6" y="-3.2" width="3.8" height="6.4" rx="0.5" fill="#fff"/><rect x="2.8" y="-2.6" width="1.3" height="5.2" fill="#fff"/></g><g transform="translate(624.5 577.5) rotate(-1.1)"><circle cx="-8.0" cy="0" r="2.6" fill="#000"/><circle cx="8.0" cy="0" r="2.6" fill="#000"/><rect x="-9.0" y="-5.3" width="18.0" height="10.6" rx="3" fill="#000"/><rect x="-3.2" y="-3.4" width="4.2" height="6.8" rx="0.5" fill="#fff"/><rect x="-7.2" y="-2" width="1.1" height="4" fill="#fff"/><rect x="4.6" y="-1.8" width="1.1" height="3.6" fill="#fff"/></g><g transform="translate(624.4 588.0) rotate(0.7)"><circle cx="-8.0" cy="0" r="2.6" fill="#000"/><circle cx="8.0" cy="0" r="2.6" fill="#000"/><rect x="-9.0" y="-5.3" width="18.0" height="10.6" rx="3" fill="#000"/><rect x="-4.6" y="-3.2" width="3.8" height="6.4" rx="0.5" fill="#fff"/><rect x="2.8" y="-2.6" width="1.3" height="5.2" fill="#fff"/></g><g transform="translate(624.3 598.5) rotate(0.7)"><circle cx="-8.0" cy="0" r="2.6" fill="#000"/><circle cx="8.0" cy="0" r="2.6" fill="#000"/><rect x="-9.0" y="-5.3" width="18.0" height="10.6" rx="3" fill="#000"/><rect x="-3.2" y="-3.4" width="4.2" height="6.8" rx="0.5" fill="#fff"/><rect x="-7.2" y="-2" width="1.1" height="4" fill="#fff"/><rect x="4.6" y="-1.8" width="1.1" height="3.6" fill="#fff"/></g><g transform="translate(624.1 609.0) rotate(0.7)"><circle cx="-8.0" cy="0" r="2.6" fill="#000"/><circle cx="8.0" cy="0" r="2.6" fill="#000"/><rect x="-9.0" y="-5.3" width="18.0" height="10.6" rx="3" fill="#000"/><rect x="-4.6" y="-3.2" width="3.8" height="6.4" rx="0.5" fill="#fff"/><rect x="2.8" y="-2.6" width="1.3" height="5.2" fill="#fff"/></g><g transform="translate(624.0 619.5) rotate(0.7)"><circle cx="-8.0" cy="0" r="2.6" fill="#000"/><circle cx="8.0" cy="0" r="2.6" fill="#000"/><rect x="-9.0" y="-5.3" width="18.0" height="10.6" rx="3" fill="#000"/><rect x="-3.2" y="-3.4" width="4.2" height="6.8" rx="0.5" fill="#fff"/><rect x="-7.2" y="-2" width="1.1" height="4" fill="#fff"/><rect x="4.6" y="-1.8" width="1.1" height="3.6" fill="#fff"/></g><g transform="translate(624.7 630.0) rotate(-3.8)"><circle cx="-8.0" cy="0" r="2.6" fill="#000"/><circle cx="8.0" cy="0" r="2.6" fill="#000"/><rect x="-9.0" y="-5.3" width="18.0" height="10.6" rx="3" fill="#000"/><rect x="-4.6" y="-3.2" width="3.8" height="6.4" rx="0.5" fill="#fff"/><rect x="2.8" y="-2.6" width="1.3" height="5.2" fill="#fff"/></g><g transform="translate(625.4 640.5) rotate(-3.8)"><circle cx="-8.0" cy="0" r="2.6" fill="#000"/><circle cx="8.0" cy="0" r="2.6" fill="#000"/><rect x="-9.0" y="-5.3" width="18.0" height="10.6" rx="3" fill="#000"/><rect x="-3.2" y="-3.4" width="4.2" height="6.8" rx="0.5" fill="#fff"/><rect x="-7.2" y="-2" width="1.1" height="4" fill="#fff"/><rect x="4.6" y="-1.8" width="1.1" height="3.6" fill="#fff"/></g><g transform="translate(626.1 650.9) rotate(-3.8)"><circle cx="-8.0" cy="0" r="2.6" fill="#000"/><circle cx="8.0" cy="0" r="2.6" fill="#000"/><rect x="-9.0" y="-5.3" width="18.0" height="10.6" rx="3" fill="#000"/><rect x="-4.6" y="-3.2" width="3.8" height="6.4" rx="0.5" fill="#fff"/><rect x="2.8" y="-2.6" width="1.3" height="5.2" fill="#fff"/></g><g transform="translate(626.8 661.4) rotate(-3.8)"><circle cx="-8.0" cy="0" r="2.6" fill="#000"/><circle cx="8.0" cy="0" r="2.6" fill="#000"/><rect x="-9.0" y="-5.3" width="18.0" height="10.6" rx="3" fill="#000"/><rect x="-3.2" y="-3.4" width="4.2" height="6.8" rx="0.5" fill="#fff"/><rect x="-7.2" y="-2" width="1.1" height="4" fill="#fff"/><rect x="4.6" y="-1.8" width="1.1" height="3.6" fill="#fff"/></g><g transform="translate(627.5 671.9) rotate(-3.8)"><circle cx="-8.0" cy="0" r="2.6" fill="#000"/><circle cx="8.0" cy="0" r="2.6" fill="#000"/><rect x="-9.0" y="-5.3" width="18.0" height="10.6" rx="3" fill="#000"/><rect x="-4.6" y="-3.2" width="3.8" height="6.4" rx="0.5" fill="#fff"/><rect x="2.8" y="-2.6" width="1.3" height="5.2" fill="#fff"/></g><g transform="translate(628.2 682.4) rotate(-5.7)"><circle cx="-8.0" cy="0" r="2.6" fill="#000"/><circle cx="8.0" cy="0" r="2.6" fill="#000"/><rect x="-9.0" y="-5.3" width="18.0" height="10.6" rx="3" fill="#000"/><rect x="-3.2" y="-3.4" width="4.2" height="6.8" rx="0.5" fill="#fff"/><rect x="-7.2" y="-2" width="1.1" height="4" fill="#fff"/><rect x="4.6" y="-1.8" width="1.1" height="3.6" fill="#fff"/></g><g transform="translate(629.3 692.8) rotate(-5.7)"><circle cx="-8.0" cy="0" r="2.6" fill="#000"/><circle cx="8.0" cy="0" r="2.6" fill="#000"/><rect x="-9.0" y="-5.3" width="18.0" height="10.6" rx="3" fill="#000"/><rect x="-4.6" y="-3.2" width="3.8" height="6.4" rx="0.5" fill="#fff"/><rect x="2.8" y="-2.6" width="1.3" height="5.2" fill="#fff"/></g><g transform="translate(630.1 703.3) rotate(-2.3)"><circle cx="-8.0" cy="0" r="2.6" fill="#000"/><circle cx="8.0" cy="0" r="2.6" fill="#000"/><rect x="-9.0" y="-5.3" width="18.0" height="10.6" rx="3" fill="#000"/><rect x="-3.2" y="-3.4" width="4.2" height="6.8" rx="0.5" fill="#fff"/><rect x="-7.2" y="-2" width="1.1" height="4" fill="#fff"/><rect x="4.6" y="-1.8" width="1.1" height="3.6" fill="#fff"/></g><g transform="translate(630.6 713.8) rotate(-2.3)"><circle cx="-8.0" cy="0" r="2.6" fill="#000"/><circle cx="8.0" cy="0" r="2.6" fill="#000"/><rect x="-9.0" y="-5.3" width="18.0" height="10.6" rx="3" fill="#000"/><rect x="-4.6" y="-3.2" width="3.8" height="6.4" rx="0.5" fill="#fff"/><rect x="2.8" y="-2.6" width="1.3" height="5.2" fill="#fff"/></g><g transform="translate(631.0 724.2) rotate(-2.3)"><circle cx="-8.0" cy="0" r="2.6" fill="#000"/><circle cx="8.0" cy="0" r="2.6" fill="#000"/><rect x="-9.0" y="-5.3" width="18.0" height="10.6" rx="3" fill="#000"/><rect x="-3.2" y="-3.4" width="4.2" height="6.8" rx="0.5" fill="#fff"/><rect x="-7.2" y="-2" width="1.1" height="4" fill="#fff"/><rect x="4.6" y="-1.8" width="1.1" height="3.6" fill="#fff"/></g><g transform="translate(631.4 734.7) rotate(-2.3)"><circle cx="-8.0" cy="0" r="2.6" fill="#000"/><circle cx="8.0" cy="0" r="2.6" fill="#000"/><rect x="-9.0" y="-5.3" width="18.0" height="10.6" rx="3" fill="#000"/><rect x="-4.6" y="-3.2" width="3.8" height="6.4" rx="0.5" fill="#fff"/><rect x="2.8" y="-2.6" width="1.3" height="5.2" fill="#fff"/></g><g transform="translate(631.8 745.2) rotate(-2.3)"><circle cx="-8.0" cy="0" r="2.6" fill="#000"/><circle cx="8.0" cy="0" r="2.6" fill="#000"/><rect x="-9.0" y="-5.3" width="18.0" height="10.6" rx="3" fill="#000"/><rect x="-3.2" y="-3.4" width="4.2" height="6.8" rx="0.5" fill="#fff"/><rect x="-7.2" y="-2" width="1.1" height="4" fill="#fff"/><rect x="4.6" y="-1.8" width="1.1" height="3.6" fill="#fff"/></g><g transform="translate(632.2 755.7) rotate(-2.3)"><circle cx="-8.0" cy="0" r="2.6" fill="#000"/><circle cx="8.0" cy="0" r="2.6" fill="#000"/><rect x="-9.0" y="-5.3" width="18.0" height="10.6" rx="3" fill="#000"/><rect x="-4.6" y="-3.2" width="3.8" height="6.4" rx="0.5" fill="#fff"/><rect x="2.8" y="-2.6" width="1.3" height="5.2" fill="#fff"/></g><g transform="translate(632.6 766.2) rotate(-2.3)"><circle cx="-8.0" cy="0" r="2.6" fill="#000"/><circle cx="8.0" cy="0" r="2.6" fill="#000"/><rect x="-9.0" y="-5.3" width="18.0" height="10.6" rx="3" fill="#000"/><rect x="-3.2" y="-3.4" width="4.2" height="6.8" rx="0.5" fill="#fff"/><rect x="-7.2" y="-2" width="1.1" height="4" fill="#fff"/><rect x="4.6" y="-1.8" width="1.1" height="3.6" fill="#fff"/></g><g transform="translate(633.1 776.7) rotate(-2.3)"><circle cx="-8.0" cy="0" r="2.6" fill="#000"/><circle cx="8.0" cy="0" r="2.6" fill="#000"/><rect x="-9.0" y="-5.3" width="18.0" height="10.6" rx="3" fill="#000"/><rect x="-4.6" y="-3.2" width="3.8" height="6.4" rx="0.5" fill="#fff"/><rect x="2.8" y="-2.6" width="1.3" height="5.2" fill="#fff"/></g><g transform="translate(633.5 787.2) rotate(-2.3)"><circle cx="-8.0" cy="0" r="2.6" fill="#000"/><circle cx="8.0" cy="0" r="2.6" fill="#000"/><rect x="-9.0" y="-5.3" width="18.0" height="10.6" rx="3" fill="#000"/><rect x="-3.2" y="-3.4" width="4.2" height="6.8" rx="0.5" fill="#fff"/><rect x="-7.2" y="-2" width="1.1" height="4" fill="#fff"/><rect x="4.6" y="-1.8" width="1.1" height="3.6" fill="#fff"/></g><g transform="translate(633.9 797.7) rotate(-2.3)"><circle cx="-8.0" cy="0" r="2.6" fill="#000"/><circle cx="8.0" cy="0" r="2.6" fill="#000"/><rect x="-9.0" y="-5.3" width="18.0" height="10.6" rx="3" fill="#000"/><rect x="-4.6" y="-3.2" width="3.8" height="6.4" rx="0.5" fill="#fff"/><rect x="2.8" y="-2.6" width="1.3" height="5.2" fill="#fff"/></g><g transform="translate(634.5 808.2) rotate(-3.8)"><circle cx="-8.0" cy="0" r="2.6" fill="#000"/><circle cx="8.0" cy="0" r="2.6" fill="#000"/><rect x="-9.0" y="-5.3" width="18.0" height="10.6" rx="3" fill="#000"/><rect x="-3.2" y="-3.4" width="4.2" height="6.8" rx="0.5" fill="#fff"/><rect x="-7.2" y="-2" width="1.1" height="4" fill="#fff"/><rect x="4.6" y="-1.8" width="1.1" height="3.6" fill="#fff"/></g><g transform="translate(635.2 818.6) rotate(-3.8)"><circle cx="-8.0" cy="0" r="2.6" fill="#000"/><circle cx="8.0" cy="0" r="2.6" fill="#000"/><rect x="-9.0" y="-5.3" width="18.0" height="10.6" rx="3" fill="#000"/><rect x="-4.6" y="-3.2" width="3.8" height="6.4" rx="0.5" fill="#fff"/><rect x="2.8" y="-2.6" width="1.3" height="5.2" fill="#fff"/></g><g transform="translate(635.9 829.1) rotate(-3.8)"><circle cx="-8.0" cy="0" r="2.6" fill="#000"/><circle cx="8.0" cy="0" r="2.6" fill="#000"/><rect x="-9.0" y="-5.3" width="18.0" height="10.6" rx="3" fill="#000"/><rect x="-3.2" y="-3.4" width="4.2" height="6.8" rx="0.5" fill="#fff"/><rect x="-7.2" y="-2" width="1.1" height="4" fill="#fff"/><rect x="4.6" y="-1.8" width="1.1" height="3.6" fill="#fff"/></g><g transform="translate(635.5 839.6) rotate(2.9)"><circle cx="-8.0" cy="0" r="2.6" fill="#000"/><circle cx="8.0" cy="0" r="2.6" fill="#000"/><rect x="-9.0" y="-5.3" width="18.0" height="10.6" rx="3" fill="#000"/><rect x="-4.6" y="-3.2" width="3.8" height="6.4" rx="0.5" fill="#fff"/><rect x="2.8" y="-2.6" width="1.3" height="5.2" fill="#fff"/></g><g transform="translate(635.0 850.1) rotate(21.3)"><circle cx="-8.0" cy="0" r="2.6" fill="#000"/><circle cx="8.0" cy="0" r="2.6" fill="#000"/><rect x="-9.0" y="-5.3" width="18.0" height="10.6" rx="3" fill="#000"/><rect x="-3.2" y="-3.4" width="4.2" height="6.8" rx="0.5" fill="#fff"/><rect x="-7.2" y="-2" width="1.1" height="4" fill="#fff"/><rect x="4.6" y="-1.8" width="1.1" height="3.6" fill="#fff"/></g><g transform="translate(631.2 859.9) rotate(21.3)"><circle cx="-8.0" cy="0" r="2.6" fill="#000"/><circle cx="8.0" cy="0" r="2.6" fill="#000"/><rect x="-9.0" y="-5.3" width="18.0" height="10.6" rx="3" fill="#000"/><rect x="-4.6" y="-3.2" width="3.8" height="6.4" rx="0.5" fill="#fff"/><rect x="2.8" y="-2.6" width="1.3" height="5.2" fill="#fff"/></g><g transform="translate(626.5 868.9) rotate(60.3)"><circle cx="-8.0" cy="0" r="2.6" fill="#000"/><circle cx="8.0" cy="0" r="2.6" fill="#000"/><rect x="-9.0" y="-5.3" width="18.0" height="10.6" rx="3" fill="#000"/><rect x="-3.2" y="-3.4" width="4.2" height="6.8" rx="0.5" fill="#fff"/><rect x="-7.2" y="-2" width="1.1" height="4" fill="#fff"/><rect x="4.6" y="-1.8" width="1.1" height="3.6" fill="#fff"/></g><g transform="translate(617.3 874.1) rotate(60.3)"><circle cx="-8.0" cy="0" r="2.6" fill="#000"/><circle cx="8.0" cy="0" r="2.6" fill="#000"/><rect x="-9.0" y="-5.3" width="18.0" height="10.6" rx="3" fill="#000"/><rect x="-4.6" y="-3.2" width="3.8" height="6.4" rx="0.5" fill="#fff"/><rect x="2.8" y="-2.6" width="1.3" height="5.2" fill="#fff"/></g><g transform="translate(608.8 871.8) rotate(-231.3)"><circle cx="-8.0" cy="0" r="2.6" fill="#000"/><circle cx="8.0" cy="0" r="2.6" fill="#000"/><rect x="-9.0" y="-5.3" width="18.0" height="10.6" rx="3" fill="#000"/><rect x="-3.2" y="-3.4" width="4.2" height="6.8" rx="0.5" fill="#fff"/><rect x="-7.2" y="-2" width="1.1" height="4" fill="#fff"/><rect x="4.6" y="-1.8" width="1.1" height="3.6" fill="#fff"/></g><g transform="translate(603.5 863.7) rotate(-186.3)"><circle cx="-8.0" cy="0" r="2.6" fill="#000"/><circle cx="8.0" cy="0" r="2.6" fill="#000"/><rect x="-9.0" y="-5.3" width="18.0" height="10.6" rx="3" fill="#000"/><rect x="-4.6" y="-3.2" width="3.8" height="6.4" rx="0.5" fill="#fff"/><rect x="2.8" y="-2.6" width="1.3" height="5.2" fill="#fff"/></g><g transform="translate(602.4 853.2) rotate(-186.3)"><circle cx="-8.0" cy="0" r="2.6" fill="#000"/><circle cx="8.0" cy="0" r="2.6" fill="#000"/><rect x="-9.0" y="-5.3" width="18.0" height="10.6" rx="3" fill="#000"/><rect x="-3.2" y="-3.4" width="4.2" height="6.8" rx="0.5" fill="#fff"/><rect x="-7.2" y="-2" width="1.1" height="4" fill="#fff"/><rect x="4.6" y="-1.8" width="1.1" height="3.6" fill="#fff"/></g><g transform="translate(602.0 842.8) rotate(-180.0)"><circle cx="-8.0" cy="0" r="2.6" fill="#000"/><circle cx="8.0" cy="0" r="2.6" fill="#000"/><rect x="-9.0" y="-5.3" width="18.0" height="10.6" rx="3" fill="#000"/><rect x="-4.6" y="-3.2" width="3.8" height="6.4" rx="0.5" fill="#fff"/><rect x="2.8" y="-2.6" width="1.3" height="5.2" fill="#fff"/></g><g transform="translate(602.0 832.3) rotate(-180.0)"><circle cx="-8.0" cy="0" r="2.6" fill="#000"/><circle cx="8.0" cy="0" r="2.6" fill="#000"/><rect x="-9.0" y="-5.3" width="18.0" height="10.6" rx="3" fill="#000"/><rect x="-3.2" y="-3.4" width="4.2" height="6.8" rx="0.5" fill="#fff"/><rect x="-7.2" y="-2" width="1.1" height="4" fill="#fff"/><rect x="4.6" y="-1.8" width="1.1" height="3.6" fill="#fff"/></g><g transform="translate(602.0 821.8) rotate(-180.0)"><circle cx="-8.0" cy="0" r="2.6" fill="#000"/><circle cx="8.0" cy="0" r="2.6" fill="#000"/><rect x="-9.0" y="-5.3" width="18.0" height="10.6" rx="3" fill="#000"/><rect x="-4.6" y="-3.2" width="3.8" height="6.4" rx="0.5" fill="#fff"/><rect x="2.8" y="-2.6" width="1.3" height="5.2" fill="#fff"/></g><g transform="translate(602.0 811.3) rotate(-180.0)"><circle cx="-8.0" cy="0" r="2.6" fill="#000"/><circle cx="8.0" cy="0" r="2.6" fill="#000"/><rect x="-9.0" y="-5.3" width="18.0" height="10.6" rx="3" fill="#000"/><rect x="-3.2" y="-3.4" width="4.2" height="6.8" rx="0.5" fill="#fff"/><rect x="-7.2" y="-2" width="1.1" height="4" fill="#fff"/><rect x="4.6" y="-1.8" width="1.1" height="3.6" fill="#fff"/></g><g transform="translate(602.0 800.8) rotate(-180.0)"><circle cx="-8.0" cy="0" r="2.6" fill="#000"/><circle cx="8.0" cy="0" r="2.6" fill="#000"/><rect x="-9.0" y="-5.3" width="18.0" height="10.6" rx="3" fill="#000"/><rect x="-4.6" y="-3.2" width="3.8" height="6.4" rx="0.5" fill="#fff"/><rect x="2.8" y="-2.6" width="1.3" height="5.2" fill="#fff"/></g><g transform="translate(602.0 790.3) rotate(-180.0)"><circle cx="-8.0" cy="0" r="2.6" fill="#000"/><circle cx="8.0" cy="0" r="2.6" fill="#000"/><rect x="-9.0" y="-5.3" width="18.0" height="10.6" rx="3" fill="#000"/><rect x="-3.2" y="-3.4" width="4.2" height="6.8" rx="0.5" fill="#fff"/><rect x="-7.2" y="-2" width="1.1" height="4" fill="#fff"/><rect x="4.6" y="-1.8" width="1.1" height="3.6" fill="#fff"/></g><g transform="translate(602.0 779.8) rotate(-180.0)"><circle cx="-8.0" cy="0" r="2.6" fill="#000"/><circle cx="8.0" cy="0" r="2.6" fill="#000"/><rect x="-9.0" y="-5.3" width="18.0" height="10.6" rx="3" fill="#000"/><rect x="-4.6" y="-3.2" width="3.8" height="6.4" rx="0.5" fill="#fff"/><rect x="2.8" y="-2.6" width="1.3" height="5.2" fill="#fff"/></g><g transform="translate(602.0 769.3) rotate(-180.0)"><circle cx="-8.0" cy="0" r="2.6" fill="#000"/><circle cx="8.0" cy="0" r="2.6" fill="#000"/><rect x="-9.0" y="-5.3" width="18.0" height="10.6" rx="3" fill="#000"/><rect x="-3.2" y="-3.4" width="4.2" height="6.8" rx="0.5" fill="#fff"/><rect x="-7.2" y="-2" width="1.1" height="4" fill="#fff"/><rect x="4.6" y="-1.8" width="1.1" height="3.6" fill="#fff"/></g><g transform="translate(602.0 758.8) rotate(-180.0)"><circle cx="-8.0" cy="0" r="2.6" fill="#000"/><circle cx="8.0" cy="0" r="2.6" fill="#000"/><rect x="-9.0" y="-5.3" width="18.0" height="10.6" rx="3" fill="#000"/><rect x="-4.6" y="-3.2" width="3.8" height="6.4" rx="0.5" fill="#fff"/><rect x="2.8" y="-2.6" width="1.3" height="5.2" fill="#fff"/></g><g transform="translate(602.0 748.3) rotate(-180.0)"><circle cx="-8.0" cy="0" r="2.6" fill="#000"/><circle cx="8.0" cy="0" r="2.6" fill="#000"/><rect x="-9.0" y="-5.3" width="18.0" height="10.6" rx="3" fill="#000"/><rect x="-3.2" y="-3.4" width="4.2" height="6.8" rx="0.5" fill="#fff"/><rect x="-7.2" y="-2" width="1.1" height="4" fill="#fff"/><rect x="4.6" y="-1.8" width="1.1" height="3.6" fill="#fff"/></g><g transform="translate(602.0 737.8) rotate(-180.0)"><circle cx="-8.0" cy="0" r="2.6" fill="#000"/><circle cx="8.0" cy="0" r="2.6" fill="#000"/><rect x="-9.0" y="-5.3" width="18.0" height="10.6" rx="3" fill="#000"/><rect x="-4.6" y="-3.2" width="3.8" height="6.4" rx="0.5" fill="#fff"/><rect x="2.8" y="-2.6" width="1.3" height="5.2" fill="#fff"/></g><g transform="translate(602.0 727.3) rotate(-180.0)"><circle cx="-8.0" cy="0" r="2.6" fill="#000"/><circle cx="8.0" cy="0" r="2.6" fill="#000"/><rect x="-9.0" y="-5.3" width="18.0" height="10.6" rx="3" fill="#000"/><rect x="-3.2" y="-3.4" width="4.2" height="6.8" rx="0.5" fill="#fff"/><rect x="-7.2" y="-2" width="1.1" height="4" fill="#fff"/><rect x="4.6" y="-1.8" width="1.1" height="3.6" fill="#fff"/></g><g transform="translate(602.0 716.8) rotate(-180.0)"><circle cx="-8.0" cy="0" r="2.6" fill="#000"/><circle cx="8.0" cy="0" r="2.6" fill="#000"/><rect x="-9.0" y="-5.3" width="18.0" height="10.6" rx="3" fill="#000"/><rect x="-4.6" y="-3.2" width="3.8" height="6.4" rx="0.5" fill="#fff"/><rect x="2.8" y="-2.6" width="1.3" height="5.2" fill="#fff"/></g><g transform="translate(602.0 706.3) rotate(-180.0)"><circle cx="-8.0" cy="0" r="2.6" fill="#000"/><circle cx="8.0" cy="0" r="2.6" fill="#000"/><rect x="-9.0" y="-5.3" width="18.0" height="10.6" rx="3" fill="#000"/><rect x="-3.2" y="-3.4" width="4.2" height="6.8" rx="0.5" fill="#fff"/><rect x="-7.2" y="-2" width="1.1" height="4" fill="#fff"/><rect x="4.6" y="-1.8" width="1.1" height="3.6" fill="#fff"/></g><g transform="translate(602.0 695.8) rotate(-180.0)"><circle cx="-8.0" cy="0" r="2.6" fill="#000"/><circle cx="8.0" cy="0" r="2.6" fill="#000"/><rect x="-9.0" y="-5.3" width="18.0" height="10.6" rx="3" fill="#000"/><rect x="-4.6" y="-3.2" width="3.8" height="6.4" rx="0.5" fill="#fff"/><rect x="2.8" y="-2.6" width="1.3" height="5.2" fill="#fff"/></g><g transform="translate(602.0 685.3) rotate(-180.0)"><circle cx="-8.0" cy="0" r="2.6" fill="#000"/><circle cx="8.0" cy="0" r="2.6" fill="#000"/><rect x="-9.0" y="-5.3" width="18.0" height="10.6" rx="3" fill="#000"/><rect x="-3.2" y="-3.4" width="4.2" height="6.8" rx="0.5" fill="#fff"/><rect x="-7.2" y="-2" width="1.1" height="4" fill="#fff"/><rect x="4.6" y="-1.8" width="1.1" height="3.6" fill="#fff"/></g><g transform="translate(602.0 674.8) rotate(-180.0)"><circle cx="-8.0" cy="0" r="2.6" fill="#000"/><circle cx="8.0" cy="0" r="2.6" fill="#000"/><rect x="-9.0" y="-5.3" width="18.0" height="10.6" rx="3" fill="#000"/><rect x="-4.6" y="-3.2" width="3.8" height="6.4" rx="0.5" fill="#fff"/><rect x="2.8" y="-2.6" width="1.3" height="5.2" fill="#fff"/></g><g transform="translate(602.0 664.3) rotate(-180.0)"><circle cx="-8.0" cy="0" r="2.6" fill="#000"/><circle cx="8.0" cy="0" r="2.6" fill="#000"/><rect x="-9.0" y="-5.3" width="18.0" height="10.6" rx="3" fill="#000"/><rect x="-3.2" y="-3.4" width="4.2" height="6.8" rx="0.5" fill="#fff"/><rect x="-7.2" y="-2" width="1.1" height="4" fill="#fff"/><rect x="4.6" y="-1.8" width="1.1" height="3.6" fill="#fff"/></g><g transform="translate(602.0 653.8) rotate(-180.0)"><circle cx="-8.0" cy="0" r="2.6" fill="#000"/><circle cx="8.0" cy="0" r="2.6" fill="#000"/><rect x="-9.0" y="-5.3" width="18.0" height="10.6" rx="3" fill="#000"/><rect x="-4.6" y="-3.2" width="3.8" height="6.4" rx="0.5" fill="#fff"/><rect x="2.8" y="-2.6" width="1.3" height="5.2" fill="#fff"/></g><g transform="translate(602.0 643.3) rotate(-180.0)"><circle cx="-8.0" cy="0" r="2.6" fill="#000"/><circle cx="8.0" cy="0" r="2.6" fill="#000"/><rect x="-9.0" y="-5.3" width="18.0" height="10.6" rx="3" fill="#000"/><rect x="-3.2" y="-3.4" width="4.2" height="6.8" rx="0.5" fill="#fff"/><rect x="-7.2" y="-2" width="1.1" height="4" fill="#fff"/><rect x="4.6" y="-1.8" width="1.1" height="3.6" fill="#fff"/></g><g transform="translate(602.0 632.8) rotate(-180.0)"><circle cx="-8.0" cy="0" r="2.6" fill="#000"/><circle cx="8.0" cy="0" r="2.6" fill="#000"/><rect x="-9.0" y="-5.3" width="18.0" height="10.6" rx="3" fill="#000"/><rect x="-4.6" y="-3.2" width="3.8" height="6.4" rx="0.5" fill="#fff"/><rect x="2.8" y="-2.6" width="1.3" height="5.2" fill="#fff"/></g><g transform="translate(602.0 622.3) rotate(-180.0)"><circle cx="-8.0" cy="0" r="2.6" fill="#000"/><circle cx="8.0" cy="0" r="2.6" fill="#000"/><rect x="-9.0" y="-5.3" width="18.0" height="10.6" rx="3" fill="#000"/><rect x="-3.2" y="-3.4" width="4.2" height="6.8" rx="0.5" fill="#fff"/><rect x="-7.2" y="-2" width="1.1" height="4" fill="#fff"/><rect x="4.6" y="-1.8" width="1.1" height="3.6" fill="#fff"/></g><g transform="translate(602.0 611.8) rotate(-180.0)"><circle cx="-8.0" cy="0" r="2.6" fill="#000"/><circle cx="8.0" cy="0" r="2.6" fill="#000"/><rect x="-9.0" y="-5.3" width="18.0" height="10.6" rx="3" fill="#000"/><rect x="-4.6" y="-3.2" width="3.8" height="6.4" rx="0.5" fill="#fff"/><rect x="2.8" y="-2.6" width="1.3" height="5.2" fill="#fff"/></g><g transform="translate(602.0 601.3) rotate(-180.0)"><circle cx="-8.0" cy="0" r="2.6" fill="#000"/><circle cx="8.0" cy="0" r="2.6" fill="#000"/><rect x="-9.0" y="-5.3" width="18.0" height="10.6" rx="3" fill="#000"/><rect x="-3.2" y="-3.4" width="4.2" height="6.8" rx="0.5" fill="#fff"/><rect x="-7.2" y="-2" width="1.1" height="4" fill="#fff"/><rect x="4.6" y="-1.8" width="1.1" height="3.6" fill="#fff"/></g><g transform="translate(602.0 590.8) rotate(-180.0)"><circle cx="-8.0" cy="0" r="2.6" fill="#000"/><circle cx="8.0" cy="0" r="2.6" fill="#000"/><rect x="-9.0" y="-5.3" width="18.0" height="10.6" rx="3" fill="#000"/><rect x="-4.6" y="-3.2" width="3.8" height="6.4" rx="0.5" fill="#fff"/><rect x="2.8" y="-2.6" width="1.3" height="5.2" fill="#fff"/></g><g transform="translate(602.0 580.3) rotate(-180.0)"><circle cx="-8.0" cy="0" r="2.6" fill="#000"/><circle cx="8.0" cy="0" r="2.6" fill="#000"/><rect x="-9.0" y="-5.3" width="18.0" height="10.6" rx="3" fill="#000"/><rect x="-3.2" y="-3.4" width="4.2" height="6.8" rx="0.5" fill="#fff"/><rect x="-7.2" y="-2" width="1.1" height="4" fill="#fff"/><rect x="4.6" y="-1.8" width="1.1" height="3.6" fill="#fff"/></g><g transform="translate(602.0 569.8) rotate(-180.0)"><circle cx="-8.0" cy="0" r="2.6" fill="#000"/><circle cx="8.0" cy="0" r="2.6" fill="#000"/><rect x="-9.0" y="-5.3" width="18.0" height="10.6" rx="3" fill="#000"/><rect x="-4.6" y="-3.2" width="3.8" height="6.4" rx="0.5" fill="#fff"/><rect x="2.8" y="-2.6" width="1.3" height="5.2" fill="#fff"/></g><g transform="translate(603.2 559.3) rotate(-172.4)"><circle cx="-8.0" cy="0" r="2.6" fill="#000"/><circle cx="8.0" cy="0" r="2.6" fill="#000"/><rect x="-9.0" y="-5.3" width="18.0" height="10.6" rx="3" fill="#000"/><rect x="-3.2" y="-3.4" width="4.2" height="6.8" rx="0.5" fill="#fff"/><rect x="-7.2" y="-2" width="1.1" height="4" fill="#fff"/><rect x="4.6" y="-1.8" width="1.1" height="3.6" fill="#fff"/></g><g transform="translate(606.5 549.8) rotate(-142.1)"><circle cx="-8.0" cy="0" r="2.6" fill="#000"/><circle cx="8.0" cy="0" r="2.6" fill="#000"/><rect x="-9.0" y="-5.3" width="18.0" height="10.6" rx="3" fill="#000"/><rect x="-4.6" y="-3.2" width="3.8" height="6.4" rx="0.5" fill="#fff"/><rect x="2.8" y="-2.6" width="1.3" height="5.2" fill="#fff"/></g>
<path d="M734.0,683.5 L742.0,683.5 A6.5,12 0 0 1 742.0,707.5 L734.0,707.5 A6.5,12 0 0 1 734.0,683.5 Z" fill="#fff" stroke="#000" stroke-width="2.2"/>
<ellipse cx="742.0" cy="695.5" rx="6.5" ry="12.0" fill="#fff" stroke="#000" stroke-width="2.2"/>
<ellipse cx="739.0" cy="689.0" rx="1.3" ry="1.6" fill="#000" stroke="#000" stroke-width="2"/>
<clipPath id="gc6"><ellipse cx="807.6" cy="704.7" rx="20.2" ry="41.3"/></clipPath>
<ellipse cx="807.6" cy="704.7" rx="22.4" ry="43.5" fill="#000" stroke="#000" stroke-width="1.4" stroke-dasharray="1.88 1.88"/>
<ellipse cx="807.6" cy="704.7" rx="22.0" ry="42.9" fill="#000"/>
<g clip-path="url(#gc6)"><ellipse cx="809.7" cy="705.7" rx="18.4" ry="40.8" fill="none" stroke="#fff" stroke-width="6.0" stroke-dasharray="1.2 2.57"/></g>
<ellipse cx="811.7" cy="706.7" rx="13.4" ry="37.0" fill="#fff" stroke="#000" stroke-width="2.2"/>
<ellipse cx="812.0" cy="706.0" rx="11.5" ry="35.0" fill="none" stroke="#000" stroke-width="1.2"/>
<ellipse cx="811" cy="705" rx="7.7" ry="15.7" fill="#000"/>
<path d="M807,696 C809,692 812,691 814,694" fill="none" stroke="#fff" stroke-width="1.6" stroke-linejoin="round" stroke-linecap="round"/>
<path d="M806,712 C808,718 811,719 813,717" fill="none" stroke="#fff" stroke-width="1.2" stroke-linejoin="round" stroke-linecap="round"/>
<ellipse cx="813.0" cy="683.0" rx="1.4" ry="1.8" fill="#000" stroke="#000" stroke-width="2"/>
<g transform="translate(849.0 705.0) rotate(6.90)"><rect x="0.0" y="-6.5" width="8.0" height="13.0" fill="#fff" stroke="#000" stroke-width="2.0"/><rect x="8.0" y="-6.0" width="23.0" height="12.0" fill="#fff" stroke="#000" stroke-width="2.0"/><rect x="31.0" y="-10.0" width="42.0" height="20.0" fill="#000" stroke="#000" stroke-width="2.0"/><line x1="33.2" y1="-7.5" x2="33.2" y2="7.5" stroke="#fff" stroke-width="0.5" opacity="0.35"/><line x1="35.4" y1="-7.5" x2="35.4" y2="7.5" stroke="#fff" stroke-width="0.5" opacity="0.35"/><line x1="37.6" y1="-7.5" x2="37.6" y2="7.5" stroke="#fff" stroke-width="0.5" opacity="0.35"/><line x1="39.8" y1="-7.5" x2="39.8" y2="7.5" stroke="#fff" stroke-width="0.5" opacity="0.35"/><line x1="42.1" y1="-7.5" x2="42.1" y2="7.5" stroke="#fff" stroke-width="0.5" opacity="0.35"/><line x1="44.3" y1="-7.5" x2="44.3" y2="7.5" stroke="#fff" stroke-width="0.5" opacity="0.35"/><line x1="46.5" y1="-7.5" x2="46.5" y2="7.5" stroke="#fff" stroke-width="0.5" opacity="0.35"/><line x1="48.7" y1="-7.5" x2="48.7" y2="7.5" stroke="#fff" stroke-width="0.5" opacity="0.35"/><line x1="50.9" y1="-7.5" x2="50.9" y2="7.5" stroke="#fff" stroke-width="0.5" opacity="0.35"/><line x1="53.1" y1="-7.5" x2="53.1" y2="7.5" stroke="#fff" stroke-width="0.5" opacity="0.35"/><line x1="55.3" y1="-7.5" x2="55.3" y2="7.5" stroke="#fff" stroke-width="0.5" opacity="0.35"/><line x1="57.5" y1="-7.5" x2="57.5" y2="7.5" stroke="#fff" stroke-width="0.5" opacity="0.35"/><line x1="59.7" y1="-7.5" x2="59.7" y2="7.5" stroke="#fff" stroke-width="0.5" opacity="0.35"/><line x1="61.9" y1="-7.5" x2="61.9" y2="7.5" stroke="#fff" stroke-width="0.5" opacity="0.35"/><line x1="64.2" y1="-7.5" x2="64.2" y2="7.5" stroke="#fff" stroke-width="0.5" opacity="0.35"/><line x1="66.4" y1="-7.5" x2="66.4" y2="7.5" stroke="#fff" stroke-width="0.5" opacity="0.35"/><line x1="68.6" y1="-7.5" x2="68.6" y2="7.5" stroke="#fff" stroke-width="0.5" opacity="0.35"/><line x1="70.8" y1="-7.5" x2="70.8" y2="7.5" stroke="#fff" stroke-width="0.5" opacity="0.35"/><rect x="73.0" y="-7.0" width="12.0" height="14.0" fill="#fff" stroke="#000" stroke-width="2.0"/><ellipse cx="85.0" cy="0" rx="2.9" ry="7.0" fill="#fff" stroke="#000" stroke-width="2.0"/><path d="M0,-6.5 A2.7,6.5 0 0 0 0,6.5" fill="#fff" stroke="#000" stroke-width="2.0"/></g>
<path d="M962.5,705.0 L970.0,705.0 A10,19.5 0 0 1 970.0,744.0 L962.5,744.0 A10,19.5 0 0 1 962.5,705.0 Z" fill="#fff" stroke="#000" stroke-width="2.2"/>
<ellipse cx="970.0" cy="724.5" rx="10.0" ry="19.5" fill="#fff" stroke="#000" stroke-width="2.2"/>
<ellipse cx="970.0" cy="724.5" rx="5.8" ry="13.3" fill="none" stroke="#000" stroke-width="4.32"/>
<ellipse cx="970.0" cy="724.5" rx="2.2" ry="6.6" fill="none" stroke="#000" stroke-width="1.6"/>
<ellipse cx="960.0" cy="711.0" rx="1.3" ry="1.6" fill="#000" stroke="#000" stroke-width="2"/>
<ellipse cx="1025.3" cy="732.4" rx="4.5" ry="10.5" fill="none" stroke="#000" stroke-width="2.8"/>
<path d="M1049.0,717.0 L1056.0,717.0 A8,19 0 0 1 1056.0,755.0 L1049.0,755.0 A8,19 0 0 1 1049.0,717.0 Z" fill="#fff" stroke="#000" stroke-width="2.2"/>
<ellipse cx="1056.0" cy="736.0" rx="8.0" ry="19.0" fill="#fff" stroke="#000" stroke-width="2.2"/>
<ellipse cx="1056.0" cy="736.0" rx="6.0" ry="16.5" fill="none" stroke="#000" stroke-width="1.6"/>
<ellipse cx="1103.0" cy="742.3" rx="10.0" ry="22.0" fill="none" stroke="#000" stroke-width="2.6"/>
<ellipse cx="1103.0" cy="742.3" rx="7.8" ry="19.5" fill="none" stroke="#000" stroke-width="1.4"/>
<path d="M425.0,779.0 L435.0,779.0 A10,23 0 0 1 435.0,825.0 L425.0,825.0 A10,23 0 0 1 425.0,779.0 Z" fill="#fff" stroke="#000" stroke-width="2.2"/>
<ellipse cx="435.0" cy="802.0" rx="10.0" ry="23.0" fill="#fff" stroke="#000" stroke-width="2.2"/>
<ellipse cx="435.0" cy="802.0" rx="5.8" ry="15.6" fill="none" stroke="#000" stroke-width="4.32"/>
<ellipse cx="435.0" cy="802.0" rx="2.2" ry="7.8" fill="none" stroke="#000" stroke-width="1.6"/>
<ellipse cx="424.5" cy="787.0" rx="1.4" ry="1.8" fill="#000" stroke="#000" stroke-width="2"/>
<ellipse cx="518.0" cy="814.0" rx="16.4" ry="41.0" fill="#fff" stroke="#000" stroke-width="4.5"/>
<circle cx="535.3" cy="820.6" r="3.5" fill="#fff" stroke="#000" stroke-width="1.9"/>
<circle cx="533.6" cy="833.1" r="3.5" fill="#fff" stroke="#000" stroke-width="1.9"/>
<circle cx="530.4" cy="843.7" r="3.5" fill="#fff" stroke="#000" stroke-width="1.9"/>
<circle cx="525.9" cy="851.4" r="3.5" fill="#fff" stroke="#000" stroke-width="1.9"/>
<circle cx="520.7" cy="855.5" r="3.5" fill="#fff" stroke="#000" stroke-width="1.9"/>
<circle cx="515.3" cy="855.5" r="3.5" fill="#fff" stroke="#000" stroke-width="1.9"/>
<circle cx="510.1" cy="851.4" r="3.5" fill="#fff" stroke="#000" stroke-width="1.9"/>
<circle cx="505.6" cy="843.7" r="3.5" fill="#fff" stroke="#000" stroke-width="1.9"/>
<circle cx="502.4" cy="833.1" r="3.5" fill="#fff" stroke="#000" stroke-width="1.9"/>
<circle cx="500.7" cy="820.6" r="3.5" fill="#fff" stroke="#000" stroke-width="1.9"/>
<circle cx="500.7" cy="807.4" r="3.5" fill="#fff" stroke="#000" stroke-width="1.9"/>
<circle cx="502.4" cy="794.9" r="3.5" fill="#fff" stroke="#000" stroke-width="1.9"/>
<circle cx="505.6" cy="784.3" r="3.5" fill="#fff" stroke="#000" stroke-width="1.9"/>
<circle cx="510.1" cy="776.6" r="3.5" fill="#fff" stroke="#000" stroke-width="1.9"/>
<circle cx="515.3" cy="772.5" r="3.5" fill="#fff" stroke="#000" stroke-width="1.9"/>
<circle cx="520.7" cy="772.5" r="3.5" fill="#fff" stroke="#000" stroke-width="1.9"/>
<circle cx="525.9" cy="776.6" r="3.5" fill="#fff" stroke="#000" stroke-width="1.9"/>
<circle cx="530.4" cy="784.3" r="3.5" fill="#fff" stroke="#000" stroke-width="1.9"/>
<circle cx="533.6" cy="794.9" r="3.5" fill="#fff" stroke="#000" stroke-width="1.9"/>
<circle cx="535.3" cy="807.4" r="3.5" fill="#fff" stroke="#000" stroke-width="1.9"/>
<ellipse cx="518.0" cy="814.0" rx="16.4" ry="41.0" fill="none" stroke="#fff" stroke-width="3.1" stroke-dasharray="1.2 8.8"/>
<ellipse cx="521.5" cy="814.0" rx="16.4" ry="41.0" fill="#fff" stroke="#000" stroke-width="4.5"/>
<circle cx="538.8" cy="820.6" r="3.5" fill="#fff" stroke="#000" stroke-width="1.9"/>
<circle cx="537.1" cy="833.1" r="3.5" fill="#fff" stroke="#000" stroke-width="1.9"/>
<circle cx="533.9" cy="843.7" r="3.5" fill="#fff" stroke="#000" stroke-width="1.9"/>
<circle cx="529.4" cy="851.4" r="3.5" fill="#fff" stroke="#000" stroke-width="1.9"/>
<circle cx="524.2" cy="855.5" r="3.5" fill="#fff" stroke="#000" stroke-width="1.9"/>
<circle cx="518.8" cy="855.5" r="3.5" fill="#fff" stroke="#000" stroke-width="1.9"/>
<circle cx="513.6" cy="851.4" r="3.5" fill="#fff" stroke="#000" stroke-width="1.9"/>
<circle cx="509.1" cy="843.7" r="3.5" fill="#fff" stroke="#000" stroke-width="1.9"/>
<circle cx="505.9" cy="833.1" r="3.5" fill="#fff" stroke="#000" stroke-width="1.9"/>
<circle cx="504.2" cy="820.6" r="3.5" fill="#fff" stroke="#000" stroke-width="1.9"/>
<circle cx="504.2" cy="807.4" r="3.5" fill="#fff" stroke="#000" stroke-width="1.9"/>
<circle cx="505.9" cy="794.9" r="3.5" fill="#fff" stroke="#000" stroke-width="1.9"/>
<circle cx="509.1" cy="784.3" r="3.5" fill="#fff" stroke="#000" stroke-width="1.9"/>
<circle cx="513.6" cy="776.6" r="3.5" fill="#fff" stroke="#000" stroke-width="1.9"/>
<circle cx="518.8" cy="772.5" r="3.5" fill="#fff" stroke="#000" stroke-width="1.9"/>
<circle cx="524.2" cy="772.5" r="3.5" fill="#fff" stroke="#000" stroke-width="1.9"/>
<circle cx="529.4" cy="776.6" r="3.5" fill="#fff" stroke="#000" stroke-width="1.9"/>
<circle cx="533.9" cy="784.3" r="3.5" fill="#fff" stroke="#000" stroke-width="1.9"/>
<circle cx="537.1" cy="794.9" r="3.5" fill="#fff" stroke="#000" stroke-width="1.9"/>
<circle cx="538.8" cy="807.4" r="3.5" fill="#fff" stroke="#000" stroke-width="1.9"/>
<ellipse cx="521.5" cy="814.0" rx="16.4" ry="41.0" fill="none" stroke="#fff" stroke-width="3.1" stroke-dasharray="1.2 8.8"/>
<ellipse cx="521.5" cy="814.0" rx="13.3" ry="37.8" fill="#fff" stroke="#000" stroke-width="1.8"/>
<ellipse cx="520.7" cy="814.0" rx="8.7" ry="22.8" fill="#fff" stroke="#000" stroke-width="2.0"/>
<ellipse cx="529" cy="815" rx="10" ry="18" fill="#000"/>
<rect x="526" y="806" width="7" height="3.5" fill="#fff"/>
<rect x="526" y="813" width="7" height="3.5" fill="#fff"/>
<rect x="526" y="820" width="7" height="3.5" fill="#fff"/>
<ellipse cx="513.0" cy="796.0" rx="1.4" ry="1.8" fill="#000" stroke="#000" stroke-width="2"/>
<ellipse cx="556.3" cy="836.5" rx="7.0" ry="8.0" fill="#fff" stroke="#000" stroke-width="3.2"/>
<ellipse cx="556.3" cy="836.5" rx="3.0" ry="3.8" fill="none" stroke="#000" stroke-width="1.6"/>
<line x1="562.0" y1="840.0" x2="570.0" y2="843.0" stroke="#000" stroke-width="3"/>
<ellipse cx="577.0" cy="846.0" rx="8.0" ry="9.5" fill="#fff" stroke="#000" stroke-width="3.2"/>
<ellipse cx="575.0" cy="844.0" rx="3.5" ry="4.5" fill="none" stroke="#000" stroke-width="1.8"/>
<g transform="translate(667.5 833.5) rotate(7.05)"><rect x="0.0" y="-11.0" width="63.0" height="22.0" fill="#fff" stroke="#000" stroke-width="2.0"/><line x1="1.0" y1="-9.8" x2="62.0" y2="-9.8" stroke="#000" stroke-width="2.2"/><line x1="1.0" y1="9.8" x2="62.0" y2="9.8" stroke="#000" stroke-width="2.2"/><line x1="4.0" y1="-6.1" x2="59.0" y2="-6.1" stroke="#000" stroke-width="1.1"/><line x1="4.0" y1="6.6" x2="59.0" y2="6.6" stroke="#000" stroke-width="1.1"/><line x1="18.9" y1="0" x2="34.7" y2="0" stroke="#000" stroke-width="1"/><rect x="63.0" y="-10.0" width="30.0" height="20.0" fill="#fff" stroke="#000" stroke-width="2.0"/><rect x="93.0" y="-14.0" width="28.0" height="28.0" rx="1.5" fill="#000" stroke="#000" stroke-width="2.0"/><rect x="95.5" y="-10.5" width="23.0" height="21.0" fill="#fff"/><line x1="102.2" y1="-11.0" x2="102.2" y2="11.0" stroke="#000" stroke-width="1.8"/><line x1="111.5" y1="-11.0" x2="111.5" y2="11.0" stroke="#000" stroke-width="1.8"/><rect x="121.0" y="-10.5" width="27.0" height="21.0" fill="#fff" stroke="#000" stroke-width="2.0"/><rect x="148.0" y="-11.0" width="71.0" height="22.0" fill="#fff" stroke="#000" stroke-width="2.0"/><line x1="149.0" y1="-9.8" x2="218.0" y2="-9.8" stroke="#000" stroke-width="2.2"/><line x1="149.0" y1="9.8" x2="218.0" y2="9.8" stroke="#000" stroke-width="2.2"/><line x1="152.0" y1="-6.1" x2="215.0" y2="-6.1" stroke="#000" stroke-width="1.1"/><line x1="152.0" y1="6.6" x2="215.0" y2="6.6" stroke="#000" stroke-width="1.1"/><line x1="169.3" y1="0" x2="187.1" y2="0" stroke="#000" stroke-width="1"/><ellipse cx="219.0" cy="0" rx="4.6" ry="11.0" fill="#fff" stroke="#000" stroke-width="2.0"/><path d="M0,-11.0 A4.6,11.0 0 0 0 0,11.0" fill="#fff" stroke="#000" stroke-width="2.0"/></g>
<ellipse cx="745.9" cy="836.6" rx="1.5" ry="1.8" fill="#000" stroke="#000" stroke-width="2"/>
<path d="M917.0,841.5 L926.0,841.5 A13,24.5 0 0 1 926.0,890.5 L917.0,890.5 A13,24.5 0 0 1 917.0,841.5 Z" fill="#fff" stroke="#000" stroke-width="2.2"/>
<ellipse cx="926.0" cy="866.0" rx="13.0" ry="24.5" fill="#fff" stroke="#000" stroke-width="2.2"/>
<ellipse cx="926.0" cy="866.0" rx="7.5" ry="16.7" fill="none" stroke="#000" stroke-width="4.32"/>
<ellipse cx="926.0" cy="866.0" rx="2.9" ry="8.3" fill="none" stroke="#000" stroke-width="1.6"/>
<ellipse cx="920.6" cy="850.0" rx="1.4" ry="1.8" fill="#000" stroke="#000" stroke-width="2"/>
<path d="M970,855 C964,866 962,885 968,895 C974,901 982,896 985,884 C988,870 987,855 982,848" fill="none" stroke="#000" stroke-width="3.0" stroke-linejoin="round" stroke-linecap="round"/>
<path d="M972,853 L968,858 M982,848 L979,853" fill="none" stroke="#000" stroke-width="3.0" stroke-linejoin="round" stroke-linecap="round"/>
<path d="M1017.0,853.0 L1026.0,853.0 A12,25 0 0 1 1026.0,903.0 L1017.0,903.0 A12,25 0 0 1 1017.0,853.0 Z" fill="#fff" stroke="#000" stroke-width="2.2"/>
<ellipse cx="1026.0" cy="878.0" rx="12.0" ry="25.0" fill="#fff" stroke="#000" stroke-width="2.2"/>
<ellipse cx="1026.0" cy="878.0" rx="8.0" ry="18.0" fill="none" stroke="#000" stroke-width="2.0"/>
<ellipse cx="1026.0" cy="878.0" rx="5.0" ry="13.0" fill="none" stroke="#000" stroke-width="3.0"/>
<ellipse cx="1026.0" cy="878.0" rx="2.5" ry="7.0" fill="none" stroke="#000" stroke-width="1.6"/>
<ellipse cx="1021.0" cy="856.0" rx="1.4" ry="1.8" fill="#000" stroke="#000" stroke-width="2"/>
<path d="M1172.7,731.9 L1192.5,735.3 L1194.2,735.3 L1196,776.6 L1197.7,805.8 L1196.8,821.3 C1200,845 1204,860 1206,871 C1210,882 1213,890 1213,897 C1213,905 1212,910 1211.4,914 C1206,930 1200,942 1192.5,948.5 C1182,956 1172,960 1161.6,960.5 C1152,960 1145,958 1139.2,953.6 C1132,946 1128,938 1125.5,931.3 C1122,920 1120,908 1120.3,897 L1135.8,890 C1133,882 1132,876 1132.3,871 C1134,860 1135.5,848 1135.8,836.7 L1137.5,814.4 C1131,814 1127,813 1125.5,811 C1123,808 1123.5,806 1123.8,804 L1129,785.2 C1133,780 1137,779 1141,778.3 L1154.7,756 L1172.7,743.9 Z" fill="#fff" stroke="#000" stroke-width="2.6" stroke-linejoin="round" stroke-linecap="round"/>
<path d="M1172.7,731.9 L1173.6,743.9" fill="none" stroke="#000" stroke-width="2.0" stroke-linejoin="round" stroke-linecap="round"/>
<path d="M1141,781 L1156,759 L1192,740" fill="none" stroke="#000" stroke-width="1.4" stroke-linejoin="round" stroke-linecap="round"/>
<path d="M1129,790 C1127,800 1127,808 1131,810 L1137,811 M1133,786 L1136,800" fill="none" stroke="#000" stroke-width="1.6" stroke-linejoin="round" stroke-linecap="round"/>
<path d="M1146,785.2 C1160,772 1172,764 1185.6,757.7 C1189,757 1190.8,760 1190.8,764.5 L1190.8,793.8 C1178,802 1165,810 1153,817.8 C1150,819 1147.8,816 1147.8,812.7 Z" fill="#fff" stroke="#000" stroke-width="3.6" stroke-linejoin="round" stroke-linecap="round"/>
<path d="M1150,788 C1162,777 1173,769 1186,762.5 L1187,791 C1176,799 1165,806 1153,813.5 Z" fill="none" stroke="#000" stroke-width="1.3" stroke-linejoin="round" stroke-linecap="round"/>
<path d="M1147.8,828 C1160,818 1175,808 1187.4,800.6 C1191,799.5 1194,803 1194,807.5 L1192.5,826 C1190,829 1188,830 1185,831 C1174,838 1163,846 1153,852.2 C1149,853 1147,850 1147,845.3 Z" fill="#fff" stroke="#000" stroke-width="3.0" stroke-linejoin="round" stroke-linecap="round"/>
<path d="M1151,831 C1163,822 1176,813 1190,806" fill="none" stroke="#000" stroke-width="1.3" stroke-linejoin="round" stroke-linecap="round"/>
<path d="M1148,838 L1153,838 M1148,845 L1153,845" fill="none" stroke="#000" stroke-width="1.4" stroke-linejoin="round" stroke-linecap="round"/>
<ellipse cx="1171.0" cy="826.4" rx="1.5" ry="1.8" fill="#000" stroke="#000" stroke-width="2"/>
<ellipse cx="1137.5" cy="869.4" rx="2.2" ry="3.8" fill="#000" stroke="#000" stroke-width="2"/>
<ellipse cx="1124.0" cy="806.0" rx="1.5" ry="2.5" fill="#000" stroke="#000" stroke-width="2"/>
<path d="M1146,862.5 C1160,850 1178,842 1190.8,842 C1198,845 1204,858 1206,871" fill="none" stroke="#000" stroke-width="1.8" stroke-linejoin="round" stroke-linecap="round"/>
<ellipse cx="1179.6" cy="906.3" rx="30.0" ry="47.3" fill="none" stroke="#000" stroke-width="1.8"/>
<ellipse cx="1187.3" cy="906.3" rx="20.7" ry="30.3" fill="none" stroke="#000" stroke-width="1.8"/>
<ellipse cx="1197.5" cy="901.2" rx="15.5" ry="26.6" fill="#fff" stroke="#000" stroke-width="3.0"/>
<ellipse cx="1197.7" cy="901.2" rx="10.3" ry="18.2" fill="none" stroke="#000" stroke-width="2.0"/>
<ellipse cx="1198.0" cy="902.0" rx="4.5" ry="11.0" fill="none" stroke="#000" stroke-width="3.0"/>
<path d="M1120.3,897 C1123,915 1128,933 1139.2,945 M1125.5,913 L1141,910 M1127,922 L1141,921" fill="none" stroke="#000" stroke-width="1.6" stroke-linejoin="round" stroke-linecap="round"/>
<g transform="translate(1321.0 831.5) rotate(5.42)"><path d="M0,-3.0 L47.1,-3.0 L47.1,3.0 L0,3.0 A1.2,3.0 0 0 1 0,-3.0 Z" fill="#fff" stroke="#000" stroke-width="2.1"/><line x1="2" y1="-0.5" x2="46.4" y2="-0.5" stroke="#000" stroke-width="0.8"/><line x1="18.5" y1="-3.0" x2="18.5" y2="3.0" stroke="#000" stroke-width="1.6"/><ellipse cx="47.4" cy="0" rx="3.2" ry="7.2" fill="#000"/><ellipse cx="51.3" cy="0" rx="2.9" ry="5.1" fill="#fff" stroke="#000" stroke-width="2"/><line x1="50.0" y1="-3.9" x2="50.0" y2="3.9" stroke="#000" stroke-width="1.4"/></g>
<g transform="translate(1257.0 885.0) rotate(5.47)"><path d="M0,-3.2 L56.7,-3.2 L56.7,3.2 L0,3.2 A1.2,3.2 0 0 1 0,-3.2 Z" fill="#fff" stroke="#000" stroke-width="2.1"/><line x1="2" y1="-0.5" x2="56.0" y2="-0.5" stroke="#000" stroke-width="0.8"/><line x1="22.0" y1="-3.2" x2="22.0" y2="3.2" stroke="#000" stroke-width="1.6"/><ellipse cx="57.0" cy="0" rx="3.5" ry="7.7" fill="#000"/><ellipse cx="61.2" cy="0" rx="3.1" ry="5.5" fill="#fff" stroke="#000" stroke-width="2"/><line x1="59.8" y1="-4.2" x2="59.8" y2="4.2" stroke="#000" stroke-width="1.4"/></g>
</svg></body></html>
